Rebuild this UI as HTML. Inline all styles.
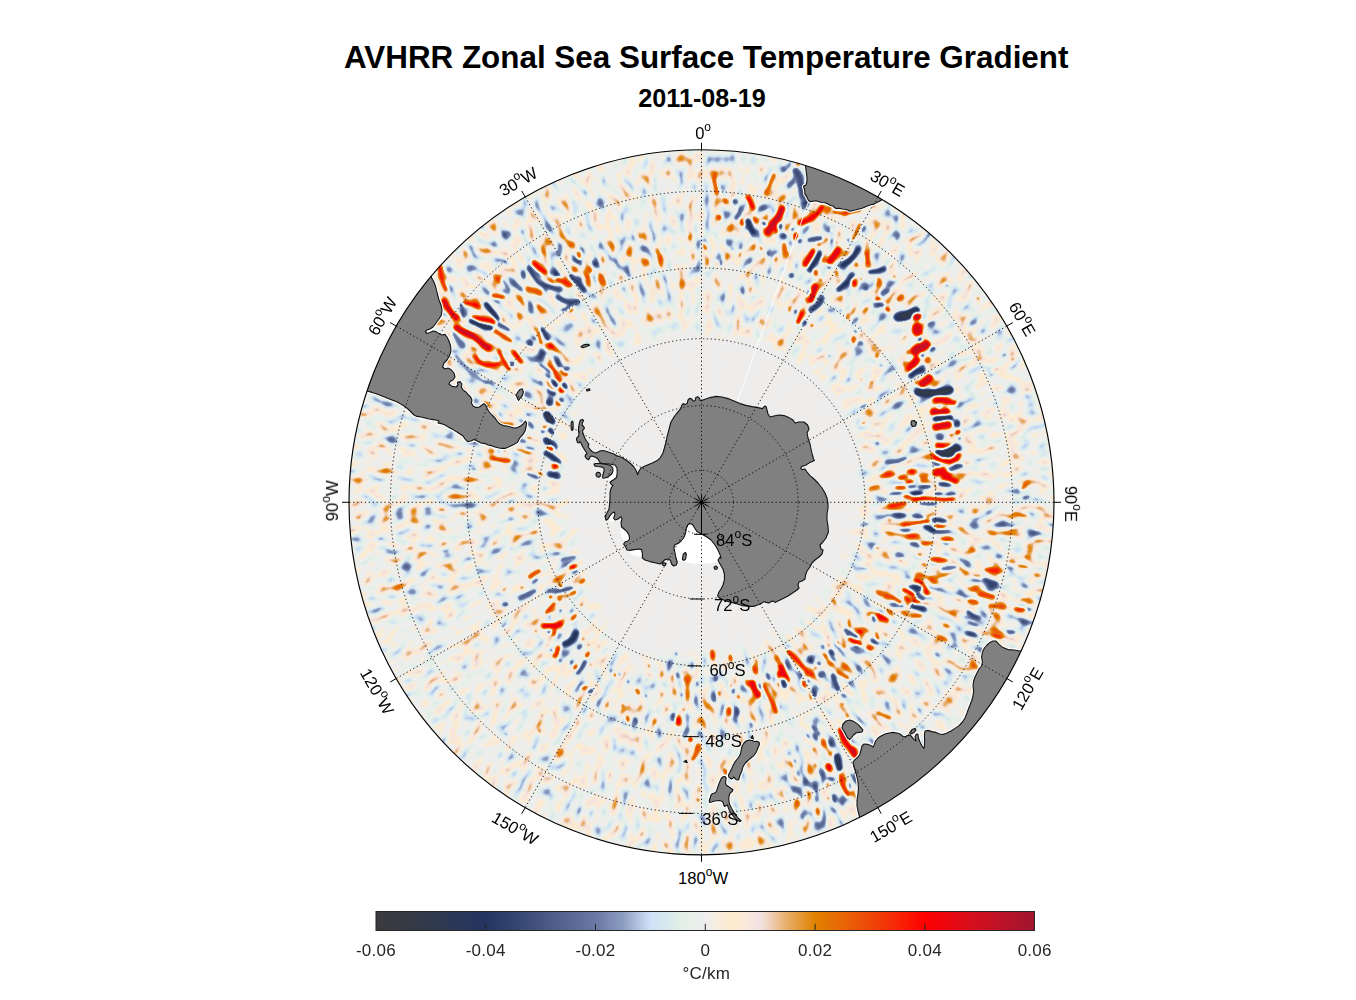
<!DOCTYPE html>
<html lang="en"><head><meta charset="utf-8"><title>AVHRR Zonal Sea Surface Temperature Gradient</title>
<style>html,body{margin:0;padding:0;background:#fff;}body{width:1356px;height:1000px;overflow:hidden;}svg{display:block;font-family:'Liberation Sans', Arial, Helvetica, sans-serif;}.g{fill:none;stroke:#000;stroke-width:.9;stroke-dasharray:1.25 2.65}.t{stroke:#000;stroke-width:1;fill:none}.l{font-size:16.6px;fill:#000}.s{font-size:12px}.c{font-size:17px;letter-spacing:.25px;fill:#262626}.land{fill:#808080;stroke:#111;stroke-width:1.1;stroke-linejoin:round}</style></head><body>
<svg width="1356" height="1000" viewBox="0 0 1356 1000">
<defs><clipPath id="disc"><circle cx="701.5" cy="502.3" r="352.5"/></clipPath>
<linearGradient id="cb" x1="0" x2="1" y1="0" y2="0">
<stop offset="0.0000" stop-color="#3b3b3d"/>
<stop offset="0.0667" stop-color="#333a48"/>
<stop offset="0.1250" stop-color="#2a3757"/>
<stop offset="0.1667" stop-color="#243562"/>
<stop offset="0.2083" stop-color="#33446f"/>
<stop offset="0.2500" stop-color="#45557f"/>
<stop offset="0.3333" stop-color="#6a79a3"/>
<stop offset="0.3750" stop-color="#8b9cc1"/>
<stop offset="0.3958" stop-color="#aebfdc"/>
<stop offset="0.4167" stop-color="#cfe1f8"/>
<stop offset="0.4375" stop-color="#d6e7f0"/>
<stop offset="0.4583" stop-color="#e0efe7"/>
<stop offset="0.4792" stop-color="#e9f0ea"/>
<stop offset="0.5000" stop-color="#eeeeee"/>
<stop offset="0.5208" stop-color="#f6eddc"/>
<stop offset="0.5417" stop-color="#fdebcd"/>
<stop offset="0.5625" stop-color="#f9e7dc"/>
<stop offset="0.5833" stop-color="#f2e3e4"/>
<stop offset="0.6042" stop-color="#edc9a8"/>
<stop offset="0.6250" stop-color="#e7ac66"/>
<stop offset="0.6667" stop-color="#e08200"/>
<stop offset="0.7083" stop-color="#e86606"/>
<stop offset="0.7500" stop-color="#ee4808"/>
<stop offset="0.7917" stop-color="#f72505"/>
<stop offset="0.8333" stop-color="#ff0000"/>
<stop offset="0.8750" stop-color="#e70812"/>
<stop offset="0.9167" stop-color="#cf1020"/>
<stop offset="0.9583" stop-color="#b8132a"/>
<stop offset="1.0000" stop-color="#a01530"/>
</linearGradient>
<g id="amp"><rect x="330" y="130" width="745" height="745" fill="#360000"/><path d="M701.5 362.3A140.0 140.0 0 1 1 701.5 362.3L701.5 266.3A236.0 236.0 0 1 0 701.5 266.3Z" fill="#390000"/><path d="M695.8 339.4A163.0 163.0 0 0 1 787.9 364.1L826.6 302.2A236.0 236.0 0 0 0 693.3 266.4Z" fill="#390000"/><path d="M718.0 266.9A236.0 236.0 0 0 1 859.4 326.9L903.6 277.9A302.0 302.0 0 0 0 722.6 201.0Z" fill="#4a0000"/><path d="M751.8 265.6A242.0 242.0 0 0 1 843.7 306.5L875.5 262.8A296.0 296.0 0 0 0 763.0 212.8Z" fill="#410000"/><path d="M777.0 199.6A312.0 312.0 0 0 1 838.3 221.9L857.6 182.3A356.0 356.0 0 0 0 787.6 156.9Z" fill="#510000"/><path d="M871.4 240.6A312.0 312.0 0 0 1 947.4 310.2L982.0 283.1A356.0 356.0 0 0 0 895.4 203.7Z" fill="#4a0000"/><path d="M783.0 361.1A163.0 163.0 0 0 1 864.5 502.3L937.5 502.3A236.0 236.0 0 0 0 819.5 297.9Z" fill="#390000"/><path d="M887.9 280.1A290.0 290.0 0 0 1 991.5 502.3L1057.5 502.3A356.0 356.0 0 0 0 930.3 229.6Z" fill="#360000"/><path d="M872.6 484.3A172.0 172.0 0 0 1 865.1 555.5L950.7 583.3A262.0 262.0 0 0 0 962.1 474.9Z" fill="#410000"/><path d="M963.3 511.4A262.0 262.0 0 0 1 918.7 648.8L996.6 701.4A356.0 356.0 0 0 0 1057.3 514.7Z" fill="#4d0000"/><path d="M849.2 528.3A150.0 150.0 0 0 1 828.7 581.8L862.6 603.0A190.0 190.0 0 0 0 888.6 535.3Z" fill="#360000"/><path d="M901.6 627.4A236.0 236.0 0 0 1 819.5 706.7L861.5 779.4A320.0 320.0 0 0 0 972.9 671.9Z" fill="#3c0000"/><path d="M809.9 622.7A162.0 162.0 0 0 1 695.8 664.2L693.5 730.2A228.0 228.0 0 0 0 854.1 671.7Z" fill="#440000"/><path d="M712.7 661.9A160.0 160.0 0 0 1 657.4 656.1L635.9 731.1A238.0 238.0 0 0 0 718.1 739.7Z" fill="#4a0000"/><path d="M825.5 717.1A248.0 248.0 0 0 1 774.0 739.5L802.4 832.2A345.0 345.0 0 0 0 874.0 801.1Z" fill="#580f00"/><path d="M770.5 728.0A236.0 236.0 0 0 1 701.5 738.3L701.5 847.3A345.0 345.0 0 0 0 802.4 832.2Z" fill="#380000"/><path d="M701.5 742.3A240.0 240.0 0 0 1 651.6 737.1L627.5 850.5A356.0 356.0 0 0 0 701.5 858.3Z" fill="#380000"/><path d="M652.4 733.1A236.0 236.0 0 0 1 477.1 575.2L362.9 612.3A356.0 356.0 0 0 0 627.5 850.5Z" fill="#340000"/><path d="M558.8 548.7A150.0 150.0 0 0 1 551.6 497.1L366.7 490.6A335.0 335.0 0 0 0 382.9 605.8Z" fill="#3e0000"/><path d="M521.6 496.0A180.0 180.0 0 0 1 545.6 412.3L393.2 324.3A356.0 356.0 0 0 0 345.7 489.9Z" fill="#380000"/><path d="M508.9 471.8A195.0 195.0 0 0 1 514.1 448.6L497.7 443.9A212.0 212.0 0 0 0 492.1 469.1Z" fill="#580f00"/><path d="M560.3 420.8A163.0 163.0 0 0 1 620.0 361.1L583.5 297.9A236.0 236.0 0 0 0 497.1 384.3Z" fill="#390000"/><path d="M513.2 384.7A222.0 222.0 0 0 1 580.6 316.1L510.9 208.8A350.0 350.0 0 0 0 404.7 316.8Z" fill="#460000"/><path d="M569.5 306.6A236.0 236.0 0 0 1 636.4 275.4L618.8 213.9A300.0 300.0 0 0 0 533.7 253.6Z" fill="#540700"/><path d="M612.3 281.6A238.0 238.0 0 0 1 709.8 264.4L711.1 228.5A274.0 274.0 0 0 0 598.9 248.3Z" fill="#510000"/><path d="M551.5 242.5A300.0 300.0 0 0 1 701.5 202.3L701.5 146.3A356.0 356.0 0 0 0 523.5 194.0Z" fill="#390000"/><path d="M620.0 361.1A163.0 163.0 0 0 1 701.5 339.3L701.5 266.3A236.0 236.0 0 0 0 583.5 297.9Z" fill="#390000"/><polyline fill="none" stroke="#3e0000" stroke-width="24" stroke-linecap="round" stroke-linejoin="round" points="874.8,269.8 880.8,276.2 886.6,282.8 892.1,289.4 897.4,296.3 902.5,303.2 907.3,310.3 911.9,317.5 914.7,327.6 917.1,337.6 919.1,347.6 922.0,356.6 924.5,365.7 926.6,374.7 928.4,383.7 934.7,389.6 940.8,395.7 941.6,404.3 942.1,412.8 942.2,421.3 944.2,427.6 946.0,434.0 947.6,440.5 949.0,447.0 949.2,453.9 949.2,460.7 949.1,467.5"/><polyline fill="none" stroke="#743a00" stroke-width="22" stroke-linecap="round" stroke-linejoin="round" points="937.9,544.0 936.0,551.5 933.8,559.0 931.5,566.4 928.8,573.7 926.0,580.9 922.9,587.9 919.7,594.9 912.3,599.5 904.9,603.7 897.5,607.6 890.0,611.1 882.5,614.3 874.9,617.1 870.7,622.6 866.3,627.9 861.8,633.0 857.0,638.0 852.2,642.8 846.6,646.1 840.9,649.2 835.2,652.1 829.4,654.7 824.6,658.0 819.7,661.1 814.8,664.1 809.8,666.9 804.7,669.5 799.5,672.0"/><polyline fill="none" stroke="#410000" stroke-width="26" stroke-linecap="round" stroke-linejoin="round" points="565.6,565.7 563.1,572.1 560.9,578.6 559.0,585.4 557.3,592.4 556.9,599.1 556.8,605.9 556.9,612.8 557.4,619.9 558.1,627.0 559.9,633.4 561.9,639.9 564.3,646.4 566.9,652.9 569.7,659.3 573.0,664.8 576.5,670.2 580.2,675.6 584.1,680.8 588.2,686.0 592.5,691.1"/><polyline fill="none" stroke="#4d0000" stroke-width="20" stroke-linecap="round" stroke-linejoin="round" points="592.5,691.1 597.9,694.8 603.5,698.3 609.1,701.7 614.9,704.9 620.8,707.9 626.8,710.7 632.9,713.4 639.3,714.7 645.6,715.8 652.0,716.7 658.4,717.4 664.8,717.9 671.2,718.2 676.3,723.1 681.8,727.9 687.4,732.6 693.3,737.2"/><polyline fill="none" stroke="#4a0000" stroke-width="13" stroke-linecap="round" stroke-linejoin="round" points="553.8,476.3 553.0,471.6 552.3,466.9 551.8,462.2 551.4,457.4 551.2,452.5 551.1,447.6 550.1,442.4 549.3,437.1 548.6,431.7 548.2,426.2 547.9,420.6 547.9,415.4 548.1,410.1 548.4,404.8 549.0,399.4 550.5,394.6 552.2,389.8 554.0,385.0 556.0,380.2"/><polyline fill="none" stroke="#786600" stroke-width="18" stroke-linecap="round" stroke-linejoin="round" points="556.0,380.2 552.5,370.4 549.4,360.4 547.4,349.5 545.9,338.4"/><polyline fill="none" stroke="#6b2c00" stroke-width="22" stroke-linecap="round" stroke-linejoin="round" points="526.2,307.6 531.2,301.2 536.5,294.9 542.0,288.8 547.8,282.8 555.4,279.4 563.0,276.4 570.7,273.5 578.5,271.0 585.5,268.7 592.6,266.6 599.7,264.8 606.8,263.2 613.9,261.7"/><polygon fill="#000" stroke="#000" stroke-width="6" points="701.5,336.3 713.1,336.2 724.8,336.9 736.3,338.4 747.8,340.7 759.2,343.8 770.3,347.7 781.2,352.4 791.4,358.4 801.0,365.4 809.9,373.1 818.3,381.4 826.1,390.2 833.2,399.4 839.6,409.2 845.3,419.3 849.3,430.2 852.4,441.3 854.8,452.5 856.4,463.7 857.4,474.8 857.6,485.9 857.1,496.9 856.0,507.7 854.5,518.4 852.2,528.9 849.2,539.1 845.7,549.1 841.6,558.9 836.8,568.3 831.4,577.3 825.9,586.2 819.7,594.6 813.0,602.7 805.7,610.2 797.9,617.2 789.7,623.7 781.0,629.5 771.9,634.7 762.5,639.3 752.8,643.3 742.8,646.5 732.6,648.6 722.2,649.9 711.9,650.5 701.5,650.3 691.0,653.1 680.0,655.2 668.7,656.5 657.2,656.7 645.7,655.6 634.3,653.3 623.3,649.5 612.5,644.8 608.0,630.9 605.1,617.2 600.5,606.8 597.0,596.4 594.3,586.0 590.3,577.3 586.9,568.5 584.2,559.5 581.5,550.8 579.1,542.1 577.3,533.3 574.3,524.7 571.9,515.9 570.2,506.9 568.4,497.7 566.6,488.1 565.6,478.3 566.8,468.7 568.7,459.2 570.2,449.3 571.4,438.8 573.3,428.3 576.1,417.8 579.8,407.2 584.4,396.8 590.0,386.8 596.9,377.7 604.6,369.0 613.0,360.7 622.6,354.0 633.2,348.8 644.0,344.4 655.2,340.8 666.7,338.4 678.2,336.9 689.9,336.2"/></g>
<linearGradient id="ramp" gradientUnits="userSpaceOnUse" x1="695.551" y1="503.083" x2="707.449" y2="501.517"><stop offset="0" stop-color="#000"/><stop offset="1" stop-color="#fff"/></linearGradient>
<mask id="wm" maskUnits="userSpaceOnUse" x="624.3" y="113.8" width="154.4" height="418.5"><polygon fill="url(#ramp)" points="695.55,503.08 648.35,144.58 754.65,144.58 707.45,503.08"/></mask>
<mask id="wm2" maskUnits="userSpaceOnUse" x="624.3" y="113.8" width="154.4" height="418.5"><polygon fill="url(#ramp)" points="695.55,503.08 648.35,144.58 660.75,142.95 707.94,501.45"/></mask>
<filter id="n0" x="630.3" y="119.8" width="142.4" height="406.5" filterUnits="userSpaceOnUse" color-interpolation-filters="sRGB"><feGaussianBlur in="SourceGraphic" stdDeviation="6" result="a"/><feColorMatrix in="a" type="matrix" values="1 0 0 0 0 1 0 0 0 0 1 0 0 0 0 0 0 0 0 1" result="a1"/><feColorMatrix in="a" type="matrix" values="0 1 0 0 0 0 1 0 0 0 0 1 0 0 0 0 0 0 0 1" result="a2"/><feTurbulence type="fractalNoise" baseFrequency="0.118 0.072" numOctaves="1" seed="11"/><feColorMatrix type="matrix" values="1 0 0 0 0 1 0 0 0 0 1 0 0 0 0 0 0 0 0 1" result="t1"/><feTurbulence type="fractalNoise" baseFrequency="0.088 0.047" numOctaves="1" seed="301"/><feColorMatrix type="matrix" values="1 0 0 0 0 1 0 0 0 0 1 0 0 0 0 0 0 0 0 1" result="t2"/><feComposite in="t1" in2="a1" operator="arithmetic" k1="3.6" k2="0" k3="-1.8" k4="0.5" result="x1"/><feComposite in="t2" in2="a2" operator="arithmetic" k1="3.4" k2="0" k3="-1.7" k4="0.5" result="x2"/><feComposite in="x1" in2="x2" operator="arithmetic" k1="0" k2="1" k3="1" k4="-0.5"/></filter>
<filter id="n1" x="630.3" y="119.8" width="142.4" height="406.5" filterUnits="userSpaceOnUse" color-interpolation-filters="sRGB"><feGaussianBlur in="SourceGraphic" stdDeviation="6" result="a"/><feColorMatrix in="a" type="matrix" values="1 0 0 0 0 1 0 0 0 0 1 0 0 0 0 0 0 0 0 1" result="a1"/><feColorMatrix in="a" type="matrix" values="0 1 0 0 0 0 1 0 0 0 0 1 0 0 0 0 0 0 0 1" result="a2"/><feTurbulence type="fractalNoise" baseFrequency="0.118 0.072" numOctaves="1" seed="18"/><feColorMatrix type="matrix" values="1 0 0 0 0 1 0 0 0 0 1 0 0 0 0 0 0 0 0 1" result="t1"/><feTurbulence type="fractalNoise" baseFrequency="0.088 0.047" numOctaves="1" seed="306"/><feColorMatrix type="matrix" values="1 0 0 0 0 1 0 0 0 0 1 0 0 0 0 0 0 0 0 1" result="t2"/><feComposite in="t1" in2="a1" operator="arithmetic" k1="3.6" k2="0" k3="-1.8" k4="0.5" result="x1"/><feComposite in="t2" in2="a2" operator="arithmetic" k1="3.4" k2="0" k3="-1.7" k4="0.5" result="x2"/><feComposite in="x1" in2="x2" operator="arithmetic" k1="0" k2="1" k3="1" k4="-0.5"/></filter>
<filter id="n2" x="630.3" y="119.8" width="142.4" height="406.5" filterUnits="userSpaceOnUse" color-interpolation-filters="sRGB"><feGaussianBlur in="SourceGraphic" stdDeviation="6" result="a"/><feColorMatrix in="a" type="matrix" values="1 0 0 0 0 1 0 0 0 0 1 0 0 0 0 0 0 0 0 1" result="a1"/><feColorMatrix in="a" type="matrix" values="0 1 0 0 0 0 1 0 0 0 0 1 0 0 0 0 0 0 0 1" result="a2"/><feTurbulence type="fractalNoise" baseFrequency="0.118 0.072" numOctaves="1" seed="25"/><feColorMatrix type="matrix" values="1 0 0 0 0 1 0 0 0 0 1 0 0 0 0 0 0 0 0 1" result="t1"/><feTurbulence type="fractalNoise" baseFrequency="0.088 0.047" numOctaves="1" seed="311"/><feColorMatrix type="matrix" values="1 0 0 0 0 1 0 0 0 0 1 0 0 0 0 0 0 0 0 1" result="t2"/><feComposite in="t1" in2="a1" operator="arithmetic" k1="3.6" k2="0" k3="-1.8" k4="0.5" result="x1"/><feComposite in="t2" in2="a2" operator="arithmetic" k1="3.4" k2="0" k3="-1.7" k4="0.5" result="x2"/><feComposite in="x1" in2="x2" operator="arithmetic" k1="0" k2="1" k3="1" k4="-0.5"/></filter>
<filter id="n3" x="630.3" y="119.8" width="142.4" height="406.5" filterUnits="userSpaceOnUse" color-interpolation-filters="sRGB"><feGaussianBlur in="SourceGraphic" stdDeviation="6" result="a"/><feColorMatrix in="a" type="matrix" values="1 0 0 0 0 1 0 0 0 0 1 0 0 0 0 0 0 0 0 1" result="a1"/><feColorMatrix in="a" type="matrix" values="0 1 0 0 0 0 1 0 0 0 0 1 0 0 0 0 0 0 0 1" result="a2"/><feTurbulence type="fractalNoise" baseFrequency="0.118 0.072" numOctaves="1" seed="32"/><feColorMatrix type="matrix" values="1 0 0 0 0 1 0 0 0 0 1 0 0 0 0 0 0 0 0 1" result="t1"/><feTurbulence type="fractalNoise" baseFrequency="0.088 0.047" numOctaves="1" seed="316"/><feColorMatrix type="matrix" values="1 0 0 0 0 1 0 0 0 0 1 0 0 0 0 0 0 0 0 1" result="t2"/><feComposite in="t1" in2="a1" operator="arithmetic" k1="3.6" k2="0" k3="-1.8" k4="0.5" result="x1"/><feComposite in="t2" in2="a2" operator="arithmetic" k1="3.4" k2="0" k3="-1.7" k4="0.5" result="x2"/><feComposite in="x1" in2="x2" operator="arithmetic" k1="0" k2="1" k3="1" k4="-0.5"/></filter>
<filter id="n4" x="630.3" y="119.8" width="142.4" height="406.5" filterUnits="userSpaceOnUse" color-interpolation-filters="sRGB"><feGaussianBlur in="SourceGraphic" stdDeviation="6" result="a"/><feColorMatrix in="a" type="matrix" values="1 0 0 0 0 1 0 0 0 0 1 0 0 0 0 0 0 0 0 1" result="a1"/><feColorMatrix in="a" type="matrix" values="0 1 0 0 0 0 1 0 0 0 0 1 0 0 0 0 0 0 0 1" result="a2"/><feTurbulence type="fractalNoise" baseFrequency="0.118 0.072" numOctaves="1" seed="39"/><feColorMatrix type="matrix" values="1 0 0 0 0 1 0 0 0 0 1 0 0 0 0 0 0 0 0 1" result="t1"/><feTurbulence type="fractalNoise" baseFrequency="0.088 0.047" numOctaves="1" seed="321"/><feColorMatrix type="matrix" values="1 0 0 0 0 1 0 0 0 0 1 0 0 0 0 0 0 0 0 1" result="t2"/><feComposite in="t1" in2="a1" operator="arithmetic" k1="3.6" k2="0" k3="-1.8" k4="0.5" result="x1"/><feComposite in="t2" in2="a2" operator="arithmetic" k1="3.4" k2="0" k3="-1.7" k4="0.5" result="x2"/><feComposite in="x1" in2="x2" operator="arithmetic" k1="0" k2="1" k3="1" k4="-0.5"/></filter>
<filter id="n5" x="630.3" y="119.8" width="142.4" height="406.5" filterUnits="userSpaceOnUse" color-interpolation-filters="sRGB"><feGaussianBlur in="SourceGraphic" stdDeviation="6" result="a"/><feColorMatrix in="a" type="matrix" values="1 0 0 0 0 1 0 0 0 0 1 0 0 0 0 0 0 0 0 1" result="a1"/><feColorMatrix in="a" type="matrix" values="0 1 0 0 0 0 1 0 0 0 0 1 0 0 0 0 0 0 0 1" result="a2"/><feTurbulence type="fractalNoise" baseFrequency="0.118 0.072" numOctaves="1" seed="46"/><feColorMatrix type="matrix" values="1 0 0 0 0 1 0 0 0 0 1 0 0 0 0 0 0 0 0 1" result="t1"/><feTurbulence type="fractalNoise" baseFrequency="0.088 0.047" numOctaves="1" seed="326"/><feColorMatrix type="matrix" values="1 0 0 0 0 1 0 0 0 0 1 0 0 0 0 0 0 0 0 1" result="t2"/><feComposite in="t1" in2="a1" operator="arithmetic" k1="3.6" k2="0" k3="-1.8" k4="0.5" result="x1"/><feComposite in="t2" in2="a2" operator="arithmetic" k1="3.4" k2="0" k3="-1.7" k4="0.5" result="x2"/><feComposite in="x1" in2="x2" operator="arithmetic" k1="0" k2="1" k3="1" k4="-0.5"/></filter>
<filter id="n6" x="630.3" y="119.8" width="142.4" height="406.5" filterUnits="userSpaceOnUse" color-interpolation-filters="sRGB"><feGaussianBlur in="SourceGraphic" stdDeviation="6" result="a"/><feColorMatrix in="a" type="matrix" values="1 0 0 0 0 1 0 0 0 0 1 0 0 0 0 0 0 0 0 1" result="a1"/><feColorMatrix in="a" type="matrix" values="0 1 0 0 0 0 1 0 0 0 0 1 0 0 0 0 0 0 0 1" result="a2"/><feTurbulence type="fractalNoise" baseFrequency="0.118 0.072" numOctaves="1" seed="53"/><feColorMatrix type="matrix" values="1 0 0 0 0 1 0 0 0 0 1 0 0 0 0 0 0 0 0 1" result="t1"/><feTurbulence type="fractalNoise" baseFrequency="0.088 0.047" numOctaves="1" seed="331"/><feColorMatrix type="matrix" values="1 0 0 0 0 1 0 0 0 0 1 0 0 0 0 0 0 0 0 1" result="t2"/><feComposite in="t1" in2="a1" operator="arithmetic" k1="3.6" k2="0" k3="-1.8" k4="0.5" result="x1"/><feComposite in="t2" in2="a2" operator="arithmetic" k1="3.4" k2="0" k3="-1.7" k4="0.5" result="x2"/><feComposite in="x1" in2="x2" operator="arithmetic" k1="0" k2="1" k3="1" k4="-0.5"/></filter>
<filter id="n7" x="630.3" y="119.8" width="142.4" height="406.5" filterUnits="userSpaceOnUse" color-interpolation-filters="sRGB"><feGaussianBlur in="SourceGraphic" stdDeviation="6" result="a"/><feColorMatrix in="a" type="matrix" values="1 0 0 0 0 1 0 0 0 0 1 0 0 0 0 0 0 0 0 1" result="a1"/><feColorMatrix in="a" type="matrix" values="0 1 0 0 0 0 1 0 0 0 0 1 0 0 0 0 0 0 0 1" result="a2"/><feTurbulence type="fractalNoise" baseFrequency="0.118 0.072" numOctaves="1" seed="60"/><feColorMatrix type="matrix" values="1 0 0 0 0 1 0 0 0 0 1 0 0 0 0 0 0 0 0 1" result="t1"/><feTurbulence type="fractalNoise" baseFrequency="0.088 0.047" numOctaves="1" seed="336"/><feColorMatrix type="matrix" values="1 0 0 0 0 1 0 0 0 0 1 0 0 0 0 0 0 0 0 1" result="t2"/><feComposite in="t1" in2="a1" operator="arithmetic" k1="3.6" k2="0" k3="-1.8" k4="0.5" result="x1"/><feComposite in="t2" in2="a2" operator="arithmetic" k1="3.4" k2="0" k3="-1.7" k4="0.5" result="x2"/><feComposite in="x1" in2="x2" operator="arithmetic" k1="0" k2="1" k3="1" k4="-0.5"/></filter>
<filter id="n8" x="630.3" y="119.8" width="142.4" height="406.5" filterUnits="userSpaceOnUse" color-interpolation-filters="sRGB"><feGaussianBlur in="SourceGraphic" stdDeviation="6" result="a"/><feColorMatrix in="a" type="matrix" values="1 0 0 0 0 1 0 0 0 0 1 0 0 0 0 0 0 0 0 1" result="a1"/><feColorMatrix in="a" type="matrix" values="0 1 0 0 0 0 1 0 0 0 0 1 0 0 0 0 0 0 0 1" result="a2"/><feTurbulence type="fractalNoise" baseFrequency="0.118 0.072" numOctaves="1" seed="67"/><feColorMatrix type="matrix" values="1 0 0 0 0 1 0 0 0 0 1 0 0 0 0 0 0 0 0 1" result="t1"/><feTurbulence type="fractalNoise" baseFrequency="0.088 0.047" numOctaves="1" seed="341"/><feColorMatrix type="matrix" values="1 0 0 0 0 1 0 0 0 0 1 0 0 0 0 0 0 0 0 1" result="t2"/><feComposite in="t1" in2="a1" operator="arithmetic" k1="3.6" k2="0" k3="-1.8" k4="0.5" result="x1"/><feComposite in="t2" in2="a2" operator="arithmetic" k1="3.4" k2="0" k3="-1.7" k4="0.5" result="x2"/><feComposite in="x1" in2="x2" operator="arithmetic" k1="0" k2="1" k3="1" k4="-0.5"/></filter>
<filter id="n9" x="630.3" y="119.8" width="142.4" height="406.5" filterUnits="userSpaceOnUse" color-interpolation-filters="sRGB"><feGaussianBlur in="SourceGraphic" stdDeviation="6" result="a"/><feColorMatrix in="a" type="matrix" values="1 0 0 0 0 1 0 0 0 0 1 0 0 0 0 0 0 0 0 1" result="a1"/><feColorMatrix in="a" type="matrix" values="0 1 0 0 0 0 1 0 0 0 0 1 0 0 0 0 0 0 0 1" result="a2"/><feTurbulence type="fractalNoise" baseFrequency="0.118 0.072" numOctaves="1" seed="74"/><feColorMatrix type="matrix" values="1 0 0 0 0 1 0 0 0 0 1 0 0 0 0 0 0 0 0 1" result="t1"/><feTurbulence type="fractalNoise" baseFrequency="0.088 0.047" numOctaves="1" seed="346"/><feColorMatrix type="matrix" values="1 0 0 0 0 1 0 0 0 0 1 0 0 0 0 0 0 0 0 1" result="t2"/><feComposite in="t1" in2="a1" operator="arithmetic" k1="3.6" k2="0" k3="-1.8" k4="0.5" result="x1"/><feComposite in="t2" in2="a2" operator="arithmetic" k1="3.4" k2="0" k3="-1.7" k4="0.5" result="x2"/><feComposite in="x1" in2="x2" operator="arithmetic" k1="0" k2="1" k3="1" k4="-0.5"/></filter>
<filter id="n10" x="630.3" y="119.8" width="142.4" height="406.5" filterUnits="userSpaceOnUse" color-interpolation-filters="sRGB"><feGaussianBlur in="SourceGraphic" stdDeviation="6" result="a"/><feColorMatrix in="a" type="matrix" values="1 0 0 0 0 1 0 0 0 0 1 0 0 0 0 0 0 0 0 1" result="a1"/><feColorMatrix in="a" type="matrix" values="0 1 0 0 0 0 1 0 0 0 0 1 0 0 0 0 0 0 0 1" result="a2"/><feTurbulence type="fractalNoise" baseFrequency="0.118 0.072" numOctaves="1" seed="81"/><feColorMatrix type="matrix" values="1 0 0 0 0 1 0 0 0 0 1 0 0 0 0 0 0 0 0 1" result="t1"/><feTurbulence type="fractalNoise" baseFrequency="0.088 0.047" numOctaves="1" seed="351"/><feColorMatrix type="matrix" values="1 0 0 0 0 1 0 0 0 0 1 0 0 0 0 0 0 0 0 1" result="t2"/><feComposite in="t1" in2="a1" operator="arithmetic" k1="3.6" k2="0" k3="-1.8" k4="0.5" result="x1"/><feComposite in="t2" in2="a2" operator="arithmetic" k1="3.4" k2="0" k3="-1.7" k4="0.5" result="x2"/><feComposite in="x1" in2="x2" operator="arithmetic" k1="0" k2="1" k3="1" k4="-0.5"/></filter>
<filter id="n11" x="630.3" y="119.8" width="142.4" height="406.5" filterUnits="userSpaceOnUse" color-interpolation-filters="sRGB"><feGaussianBlur in="SourceGraphic" stdDeviation="6" result="a"/><feColorMatrix in="a" type="matrix" values="1 0 0 0 0 1 0 0 0 0 1 0 0 0 0 0 0 0 0 1" result="a1"/><feColorMatrix in="a" type="matrix" values="0 1 0 0 0 0 1 0 0 0 0 1 0 0 0 0 0 0 0 1" result="a2"/><feTurbulence type="fractalNoise" baseFrequency="0.118 0.072" numOctaves="1" seed="88"/><feColorMatrix type="matrix" values="1 0 0 0 0 1 0 0 0 0 1 0 0 0 0 0 0 0 0 1" result="t1"/><feTurbulence type="fractalNoise" baseFrequency="0.088 0.047" numOctaves="1" seed="356"/><feColorMatrix type="matrix" values="1 0 0 0 0 1 0 0 0 0 1 0 0 0 0 0 0 0 0 1" result="t2"/><feComposite in="t1" in2="a1" operator="arithmetic" k1="3.6" k2="0" k3="-1.8" k4="0.5" result="x1"/><feComposite in="t2" in2="a2" operator="arithmetic" k1="3.4" k2="0" k3="-1.7" k4="0.5" result="x2"/><feComposite in="x1" in2="x2" operator="arithmetic" k1="0" k2="1" k3="1" k4="-0.5"/></filter>
<filter id="n12" x="630.3" y="119.8" width="142.4" height="406.5" filterUnits="userSpaceOnUse" color-interpolation-filters="sRGB"><feGaussianBlur in="SourceGraphic" stdDeviation="6" result="a"/><feColorMatrix in="a" type="matrix" values="1 0 0 0 0 1 0 0 0 0 1 0 0 0 0 0 0 0 0 1" result="a1"/><feColorMatrix in="a" type="matrix" values="0 1 0 0 0 0 1 0 0 0 0 1 0 0 0 0 0 0 0 1" result="a2"/><feTurbulence type="fractalNoise" baseFrequency="0.118 0.072" numOctaves="1" seed="95"/><feColorMatrix type="matrix" values="1 0 0 0 0 1 0 0 0 0 1 0 0 0 0 0 0 0 0 1" result="t1"/><feTurbulence type="fractalNoise" baseFrequency="0.088 0.047" numOctaves="1" seed="361"/><feColorMatrix type="matrix" values="1 0 0 0 0 1 0 0 0 0 1 0 0 0 0 0 0 0 0 1" result="t2"/><feComposite in="t1" in2="a1" operator="arithmetic" k1="3.6" k2="0" k3="-1.8" k4="0.5" result="x1"/><feComposite in="t2" in2="a2" operator="arithmetic" k1="3.4" k2="0" k3="-1.7" k4="0.5" result="x2"/><feComposite in="x1" in2="x2" operator="arithmetic" k1="0" k2="1" k3="1" k4="-0.5"/></filter>
<filter id="n13" x="630.3" y="119.8" width="142.4" height="406.5" filterUnits="userSpaceOnUse" color-interpolation-filters="sRGB"><feGaussianBlur in="SourceGraphic" stdDeviation="6" result="a"/><feColorMatrix in="a" type="matrix" values="1 0 0 0 0 1 0 0 0 0 1 0 0 0 0 0 0 0 0 1" result="a1"/><feColorMatrix in="a" type="matrix" values="0 1 0 0 0 0 1 0 0 0 0 1 0 0 0 0 0 0 0 1" result="a2"/><feTurbulence type="fractalNoise" baseFrequency="0.118 0.072" numOctaves="1" seed="102"/><feColorMatrix type="matrix" values="1 0 0 0 0 1 0 0 0 0 1 0 0 0 0 0 0 0 0 1" result="t1"/><feTurbulence type="fractalNoise" baseFrequency="0.088 0.047" numOctaves="1" seed="366"/><feColorMatrix type="matrix" values="1 0 0 0 0 1 0 0 0 0 1 0 0 0 0 0 0 0 0 1" result="t2"/><feComposite in="t1" in2="a1" operator="arithmetic" k1="3.6" k2="0" k3="-1.8" k4="0.5" result="x1"/><feComposite in="t2" in2="a2" operator="arithmetic" k1="3.4" k2="0" k3="-1.7" k4="0.5" result="x2"/><feComposite in="x1" in2="x2" operator="arithmetic" k1="0" k2="1" k3="1" k4="-0.5"/></filter>
<filter id="n14" x="630.3" y="119.8" width="142.4" height="406.5" filterUnits="userSpaceOnUse" color-interpolation-filters="sRGB"><feGaussianBlur in="SourceGraphic" stdDeviation="6" result="a"/><feColorMatrix in="a" type="matrix" values="1 0 0 0 0 1 0 0 0 0 1 0 0 0 0 0 0 0 0 1" result="a1"/><feColorMatrix in="a" type="matrix" values="0 1 0 0 0 0 1 0 0 0 0 1 0 0 0 0 0 0 0 1" result="a2"/><feTurbulence type="fractalNoise" baseFrequency="0.118 0.072" numOctaves="1" seed="109"/><feColorMatrix type="matrix" values="1 0 0 0 0 1 0 0 0 0 1 0 0 0 0 0 0 0 0 1" result="t1"/><feTurbulence type="fractalNoise" baseFrequency="0.088 0.047" numOctaves="1" seed="371"/><feColorMatrix type="matrix" values="1 0 0 0 0 1 0 0 0 0 1 0 0 0 0 0 0 0 0 1" result="t2"/><feComposite in="t1" in2="a1" operator="arithmetic" k1="3.6" k2="0" k3="-1.8" k4="0.5" result="x1"/><feComposite in="t2" in2="a2" operator="arithmetic" k1="3.4" k2="0" k3="-1.7" k4="0.5" result="x2"/><feComposite in="x1" in2="x2" operator="arithmetic" k1="0" k2="1" k3="1" k4="-0.5"/></filter>
<filter id="n15" x="630.3" y="119.8" width="142.4" height="406.5" filterUnits="userSpaceOnUse" color-interpolation-filters="sRGB"><feGaussianBlur in="SourceGraphic" stdDeviation="6" result="a"/><feColorMatrix in="a" type="matrix" values="1 0 0 0 0 1 0 0 0 0 1 0 0 0 0 0 0 0 0 1" result="a1"/><feColorMatrix in="a" type="matrix" values="0 1 0 0 0 0 1 0 0 0 0 1 0 0 0 0 0 0 0 1" result="a2"/><feTurbulence type="fractalNoise" baseFrequency="0.118 0.072" numOctaves="1" seed="116"/><feColorMatrix type="matrix" values="1 0 0 0 0 1 0 0 0 0 1 0 0 0 0 0 0 0 0 1" result="t1"/><feTurbulence type="fractalNoise" baseFrequency="0.088 0.047" numOctaves="1" seed="376"/><feColorMatrix type="matrix" values="1 0 0 0 0 1 0 0 0 0 1 0 0 0 0 0 0 0 0 1" result="t2"/><feComposite in="t1" in2="a1" operator="arithmetic" k1="3.6" k2="0" k3="-1.8" k4="0.5" result="x1"/><feComposite in="t2" in2="a2" operator="arithmetic" k1="3.4" k2="0" k3="-1.7" k4="0.5" result="x2"/><feComposite in="x1" in2="x2" operator="arithmetic" k1="0" k2="1" k3="1" k4="-0.5"/></filter>
<filter id="n16" x="630.3" y="119.8" width="142.4" height="406.5" filterUnits="userSpaceOnUse" color-interpolation-filters="sRGB"><feGaussianBlur in="SourceGraphic" stdDeviation="6" result="a"/><feColorMatrix in="a" type="matrix" values="1 0 0 0 0 1 0 0 0 0 1 0 0 0 0 0 0 0 0 1" result="a1"/><feColorMatrix in="a" type="matrix" values="0 1 0 0 0 0 1 0 0 0 0 1 0 0 0 0 0 0 0 1" result="a2"/><feTurbulence type="fractalNoise" baseFrequency="0.118 0.072" numOctaves="1" seed="123"/><feColorMatrix type="matrix" values="1 0 0 0 0 1 0 0 0 0 1 0 0 0 0 0 0 0 0 1" result="t1"/><feTurbulence type="fractalNoise" baseFrequency="0.088 0.047" numOctaves="1" seed="381"/><feColorMatrix type="matrix" values="1 0 0 0 0 1 0 0 0 0 1 0 0 0 0 0 0 0 0 1" result="t2"/><feComposite in="t1" in2="a1" operator="arithmetic" k1="3.6" k2="0" k3="-1.8" k4="0.5" result="x1"/><feComposite in="t2" in2="a2" operator="arithmetic" k1="3.4" k2="0" k3="-1.7" k4="0.5" result="x2"/><feComposite in="x1" in2="x2" operator="arithmetic" k1="0" k2="1" k3="1" k4="-0.5"/></filter>
<filter id="n17" x="630.3" y="119.8" width="142.4" height="406.5" filterUnits="userSpaceOnUse" color-interpolation-filters="sRGB"><feGaussianBlur in="SourceGraphic" stdDeviation="6" result="a"/><feColorMatrix in="a" type="matrix" values="1 0 0 0 0 1 0 0 0 0 1 0 0 0 0 0 0 0 0 1" result="a1"/><feColorMatrix in="a" type="matrix" values="0 1 0 0 0 0 1 0 0 0 0 1 0 0 0 0 0 0 0 1" result="a2"/><feTurbulence type="fractalNoise" baseFrequency="0.118 0.072" numOctaves="1" seed="130"/><feColorMatrix type="matrix" values="1 0 0 0 0 1 0 0 0 0 1 0 0 0 0 0 0 0 0 1" result="t1"/><feTurbulence type="fractalNoise" baseFrequency="0.088 0.047" numOctaves="1" seed="386"/><feColorMatrix type="matrix" values="1 0 0 0 0 1 0 0 0 0 1 0 0 0 0 0 0 0 0 1" result="t2"/><feComposite in="t1" in2="a1" operator="arithmetic" k1="3.6" k2="0" k3="-1.8" k4="0.5" result="x1"/><feComposite in="t2" in2="a2" operator="arithmetic" k1="3.4" k2="0" k3="-1.7" k4="0.5" result="x2"/><feComposite in="x1" in2="x2" operator="arithmetic" k1="0" k2="1" k3="1" k4="-0.5"/></filter>
<filter id="n18" x="630.3" y="119.8" width="142.4" height="406.5" filterUnits="userSpaceOnUse" color-interpolation-filters="sRGB"><feGaussianBlur in="SourceGraphic" stdDeviation="6" result="a"/><feColorMatrix in="a" type="matrix" values="1 0 0 0 0 1 0 0 0 0 1 0 0 0 0 0 0 0 0 1" result="a1"/><feColorMatrix in="a" type="matrix" values="0 1 0 0 0 0 1 0 0 0 0 1 0 0 0 0 0 0 0 1" result="a2"/><feTurbulence type="fractalNoise" baseFrequency="0.118 0.072" numOctaves="1" seed="137"/><feColorMatrix type="matrix" values="1 0 0 0 0 1 0 0 0 0 1 0 0 0 0 0 0 0 0 1" result="t1"/><feTurbulence type="fractalNoise" baseFrequency="0.088 0.047" numOctaves="1" seed="391"/><feColorMatrix type="matrix" values="1 0 0 0 0 1 0 0 0 0 1 0 0 0 0 0 0 0 0 1" result="t2"/><feComposite in="t1" in2="a1" operator="arithmetic" k1="3.6" k2="0" k3="-1.8" k4="0.5" result="x1"/><feComposite in="t2" in2="a2" operator="arithmetic" k1="3.4" k2="0" k3="-1.7" k4="0.5" result="x2"/><feComposite in="x1" in2="x2" operator="arithmetic" k1="0" k2="1" k3="1" k4="-0.5"/></filter>
<filter id="n19" x="630.3" y="119.8" width="142.4" height="406.5" filterUnits="userSpaceOnUse" color-interpolation-filters="sRGB"><feGaussianBlur in="SourceGraphic" stdDeviation="6" result="a"/><feColorMatrix in="a" type="matrix" values="1 0 0 0 0 1 0 0 0 0 1 0 0 0 0 0 0 0 0 1" result="a1"/><feColorMatrix in="a" type="matrix" values="0 1 0 0 0 0 1 0 0 0 0 1 0 0 0 0 0 0 0 1" result="a2"/><feTurbulence type="fractalNoise" baseFrequency="0.118 0.072" numOctaves="1" seed="144"/><feColorMatrix type="matrix" values="1 0 0 0 0 1 0 0 0 0 1 0 0 0 0 0 0 0 0 1" result="t1"/><feTurbulence type="fractalNoise" baseFrequency="0.088 0.047" numOctaves="1" seed="396"/><feColorMatrix type="matrix" values="1 0 0 0 0 1 0 0 0 0 1 0 0 0 0 0 0 0 0 1" result="t2"/><feComposite in="t1" in2="a1" operator="arithmetic" k1="3.6" k2="0" k3="-1.8" k4="0.5" result="x1"/><feComposite in="t2" in2="a2" operator="arithmetic" k1="3.4" k2="0" k3="-1.7" k4="0.5" result="x2"/><feComposite in="x1" in2="x2" operator="arithmetic" k1="0" k2="1" k3="1" k4="-0.5"/></filter>
<filter id="n20" x="630.3" y="119.8" width="142.4" height="406.5" filterUnits="userSpaceOnUse" color-interpolation-filters="sRGB"><feGaussianBlur in="SourceGraphic" stdDeviation="6" result="a"/><feColorMatrix in="a" type="matrix" values="1 0 0 0 0 1 0 0 0 0 1 0 0 0 0 0 0 0 0 1" result="a1"/><feColorMatrix in="a" type="matrix" values="0 1 0 0 0 0 1 0 0 0 0 1 0 0 0 0 0 0 0 1" result="a2"/><feTurbulence type="fractalNoise" baseFrequency="0.118 0.072" numOctaves="1" seed="151"/><feColorMatrix type="matrix" values="1 0 0 0 0 1 0 0 0 0 1 0 0 0 0 0 0 0 0 1" result="t1"/><feTurbulence type="fractalNoise" baseFrequency="0.088 0.047" numOctaves="1" seed="401"/><feColorMatrix type="matrix" values="1 0 0 0 0 1 0 0 0 0 1 0 0 0 0 0 0 0 0 1" result="t2"/><feComposite in="t1" in2="a1" operator="arithmetic" k1="3.6" k2="0" k3="-1.8" k4="0.5" result="x1"/><feComposite in="t2" in2="a2" operator="arithmetic" k1="3.4" k2="0" k3="-1.7" k4="0.5" result="x2"/><feComposite in="x1" in2="x2" operator="arithmetic" k1="0" k2="1" k3="1" k4="-0.5"/></filter>
<filter id="n21" x="630.3" y="119.8" width="142.4" height="406.5" filterUnits="userSpaceOnUse" color-interpolation-filters="sRGB"><feGaussianBlur in="SourceGraphic" stdDeviation="6" result="a"/><feColorMatrix in="a" type="matrix" values="1 0 0 0 0 1 0 0 0 0 1 0 0 0 0 0 0 0 0 1" result="a1"/><feColorMatrix in="a" type="matrix" values="0 1 0 0 0 0 1 0 0 0 0 1 0 0 0 0 0 0 0 1" result="a2"/><feTurbulence type="fractalNoise" baseFrequency="0.118 0.072" numOctaves="1" seed="158"/><feColorMatrix type="matrix" values="1 0 0 0 0 1 0 0 0 0 1 0 0 0 0 0 0 0 0 1" result="t1"/><feTurbulence type="fractalNoise" baseFrequency="0.088 0.047" numOctaves="1" seed="406"/><feColorMatrix type="matrix" values="1 0 0 0 0 1 0 0 0 0 1 0 0 0 0 0 0 0 0 1" result="t2"/><feComposite in="t1" in2="a1" operator="arithmetic" k1="3.6" k2="0" k3="-1.8" k4="0.5" result="x1"/><feComposite in="t2" in2="a2" operator="arithmetic" k1="3.4" k2="0" k3="-1.7" k4="0.5" result="x2"/><feComposite in="x1" in2="x2" operator="arithmetic" k1="0" k2="1" k3="1" k4="-0.5"/></filter>
<filter id="n22" x="630.3" y="119.8" width="142.4" height="406.5" filterUnits="userSpaceOnUse" color-interpolation-filters="sRGB"><feGaussianBlur in="SourceGraphic" stdDeviation="6" result="a"/><feColorMatrix in="a" type="matrix" values="1 0 0 0 0 1 0 0 0 0 1 0 0 0 0 0 0 0 0 1" result="a1"/><feColorMatrix in="a" type="matrix" values="0 1 0 0 0 0 1 0 0 0 0 1 0 0 0 0 0 0 0 1" result="a2"/><feTurbulence type="fractalNoise" baseFrequency="0.118 0.072" numOctaves="1" seed="165"/><feColorMatrix type="matrix" values="1 0 0 0 0 1 0 0 0 0 1 0 0 0 0 0 0 0 0 1" result="t1"/><feTurbulence type="fractalNoise" baseFrequency="0.088 0.047" numOctaves="1" seed="411"/><feColorMatrix type="matrix" values="1 0 0 0 0 1 0 0 0 0 1 0 0 0 0 0 0 0 0 1" result="t2"/><feComposite in="t1" in2="a1" operator="arithmetic" k1="3.6" k2="0" k3="-1.8" k4="0.5" result="x1"/><feComposite in="t2" in2="a2" operator="arithmetic" k1="3.4" k2="0" k3="-1.7" k4="0.5" result="x2"/><feComposite in="x1" in2="x2" operator="arithmetic" k1="0" k2="1" k3="1" k4="-0.5"/></filter>
<filter id="n23" x="630.3" y="119.8" width="142.4" height="406.5" filterUnits="userSpaceOnUse" color-interpolation-filters="sRGB"><feGaussianBlur in="SourceGraphic" stdDeviation="6" result="a"/><feColorMatrix in="a" type="matrix" values="1 0 0 0 0 1 0 0 0 0 1 0 0 0 0 0 0 0 0 1" result="a1"/><feColorMatrix in="a" type="matrix" values="0 1 0 0 0 0 1 0 0 0 0 1 0 0 0 0 0 0 0 1" result="a2"/><feTurbulence type="fractalNoise" baseFrequency="0.118 0.072" numOctaves="1" seed="172"/><feColorMatrix type="matrix" values="1 0 0 0 0 1 0 0 0 0 1 0 0 0 0 0 0 0 0 1" result="t1"/><feTurbulence type="fractalNoise" baseFrequency="0.088 0.047" numOctaves="1" seed="416"/><feColorMatrix type="matrix" values="1 0 0 0 0 1 0 0 0 0 1 0 0 0 0 0 0 0 0 1" result="t2"/><feComposite in="t1" in2="a1" operator="arithmetic" k1="3.6" k2="0" k3="-1.8" k4="0.5" result="x1"/><feComposite in="t2" in2="a2" operator="arithmetic" k1="3.4" k2="0" k3="-1.7" k4="0.5" result="x2"/><feComposite in="x1" in2="x2" operator="arithmetic" k1="0" k2="1" k3="1" k4="-0.5"/></filter>
<filter id="cmap" x="335" y="135" width="735" height="735" filterUnits="userSpaceOnUse" color-interpolation-filters="sRGB"><feComponentTransfer><feFuncR type="table" tableValues="0.231 0.221 0.211 0.201 0.189 0.176 0.164 0.153 0.142 0.167 0.194 0.224 0.255 0.286 0.317 0.347 0.376 0.404 0.445 0.493 0.54 0.63 0.72 0.803 0.827 0.845 0.867 0.886 0.903 0.916 0.924 0.93 0.933 0.939 0.949 0.961 0.973 0.986 0.987 0.979 0.964 0.948 0.935 0.92 0.905 0.895 0.885 0.883 0.896 0.908 0.918 0.928 0.941 0.956 0.972 0.986 0.998 0.954 0.908 0.863 0.816 0.771 0.725 0.677 0.627"/><feFuncG type="table" tableValues="0.231 0.23 0.229 0.228 0.224 0.22 0.215 0.212 0.208 0.234 0.261 0.29 0.319 0.349 0.378 0.407 0.436 0.464 0.506 0.557 0.606 0.697 0.788 0.874 0.895 0.91 0.928 0.938 0.94 0.94 0.937 0.935 0.933 0.933 0.931 0.93 0.927 0.923 0.917 0.908 0.899 0.884 0.818 0.745 0.668 0.609 0.547 0.493 0.45 0.405 0.357 0.308 0.253 0.193 0.13 0.064 0.001 0.015 0.031 0.046 0.061 0.068 0.074 0.078 0.082"/><feFuncB type="table" tableValues="0.239 0.253 0.267 0.281 0.301 0.322 0.342 0.363 0.383 0.407 0.43 0.457 0.485 0.513 0.543 0.572 0.601 0.628 0.666 0.71 0.752 0.822 0.895 0.966 0.955 0.936 0.917 0.908 0.914 0.92 0.926 0.93 0.933 0.92 0.898 0.872 0.845 0.817 0.822 0.854 0.877 0.879 0.727 0.56 0.384 0.24 0.091 0.004 0.013 0.022 0.026 0.03 0.029 0.024 0.018 0.009 0.002 0.035 0.069 0.096 0.123 0.143 0.163 0.176 0.188"/></feComponentTransfer></filter>
<filter id="b1" x="335" y="135" width="735" height="735" filterUnits="userSpaceOnUse" color-interpolation-filters="sRGB"><feGaussianBlur stdDeviation="1.4"/></filter>
</defs>
<text x="706.2" y="67.8" text-anchor="middle" font-weight="bold" font-size="31px" textLength="724.5" lengthAdjust="spacingAndGlyphs">AVHRR Zonal Sea Surface Temperature Gradient</text>
<text x="702" y="107" text-anchor="middle" font-weight="bold" font-size="25px" textLength="127.5" lengthAdjust="spacingAndGlyphs">2011-08-19</text>
<g clip-path="url(#disc)">
<rect x="340" y="140" width="730" height="730" fill="#eeeeee"/>
<g filter="url(#cmap)">
<rect x="335" y="135" width="735" height="735" fill="#808080"/>
<g transform="rotate(0 701.5 502.3)" mask="url(#wm)" filter="url(#n0)"><use href="#amp" transform="rotate(-0 701.5 502.3)"/></g>
<g transform="rotate(15 701.5 502.3)" mask="url(#wm)" filter="url(#n1)"><use href="#amp" transform="rotate(-15 701.5 502.3)"/></g>
<g transform="rotate(30 701.5 502.3)" mask="url(#wm)" filter="url(#n2)"><use href="#amp" transform="rotate(-30 701.5 502.3)"/></g>
<g transform="rotate(45 701.5 502.3)" mask="url(#wm)" filter="url(#n3)"><use href="#amp" transform="rotate(-45 701.5 502.3)"/></g>
<g transform="rotate(60 701.5 502.3)" mask="url(#wm)" filter="url(#n4)"><use href="#amp" transform="rotate(-60 701.5 502.3)"/></g>
<g transform="rotate(75 701.5 502.3)" mask="url(#wm)" filter="url(#n5)"><use href="#amp" transform="rotate(-75 701.5 502.3)"/></g>
<g transform="rotate(90 701.5 502.3)" mask="url(#wm)" filter="url(#n6)"><use href="#amp" transform="rotate(-90 701.5 502.3)"/></g>
<g transform="rotate(105 701.5 502.3)" mask="url(#wm)" filter="url(#n7)"><use href="#amp" transform="rotate(-105 701.5 502.3)"/></g>
<g transform="rotate(120 701.5 502.3)" mask="url(#wm)" filter="url(#n8)"><use href="#amp" transform="rotate(-120 701.5 502.3)"/></g>
<g transform="rotate(135 701.5 502.3)" mask="url(#wm)" filter="url(#n9)"><use href="#amp" transform="rotate(-135 701.5 502.3)"/></g>
<g transform="rotate(150 701.5 502.3)" mask="url(#wm)" filter="url(#n10)"><use href="#amp" transform="rotate(-150 701.5 502.3)"/></g>
<g transform="rotate(165 701.5 502.3)" mask="url(#wm)" filter="url(#n11)"><use href="#amp" transform="rotate(-165 701.5 502.3)"/></g>
<g transform="rotate(180 701.5 502.3)" mask="url(#wm)" filter="url(#n12)"><use href="#amp" transform="rotate(-180 701.5 502.3)"/></g>
<g transform="rotate(195 701.5 502.3)" mask="url(#wm)" filter="url(#n13)"><use href="#amp" transform="rotate(-195 701.5 502.3)"/></g>
<g transform="rotate(210 701.5 502.3)" mask="url(#wm)" filter="url(#n14)"><use href="#amp" transform="rotate(-210 701.5 502.3)"/></g>
<g transform="rotate(225 701.5 502.3)" mask="url(#wm)" filter="url(#n15)"><use href="#amp" transform="rotate(-225 701.5 502.3)"/></g>
<g transform="rotate(240 701.5 502.3)" mask="url(#wm)" filter="url(#n16)"><use href="#amp" transform="rotate(-240 701.5 502.3)"/></g>
<g transform="rotate(255 701.5 502.3)" mask="url(#wm)" filter="url(#n17)"><use href="#amp" transform="rotate(-255 701.5 502.3)"/></g>
<g transform="rotate(270 701.5 502.3)" mask="url(#wm)" filter="url(#n18)"><use href="#amp" transform="rotate(-270 701.5 502.3)"/></g>
<g transform="rotate(285 701.5 502.3)" mask="url(#wm)" filter="url(#n19)"><use href="#amp" transform="rotate(-285 701.5 502.3)"/></g>
<g transform="rotate(300 701.5 502.3)" mask="url(#wm)" filter="url(#n20)"><use href="#amp" transform="rotate(-300 701.5 502.3)"/></g>
<g transform="rotate(315 701.5 502.3)" mask="url(#wm)" filter="url(#n21)"><use href="#amp" transform="rotate(-315 701.5 502.3)"/></g>
<g transform="rotate(330 701.5 502.3)" mask="url(#wm)" filter="url(#n22)"><use href="#amp" transform="rotate(-330 701.5 502.3)"/></g>
<g transform="rotate(345 701.5 502.3)" mask="url(#wm)" filter="url(#n23)"><use href="#amp" transform="rotate(-345 701.5 502.3)"/></g>
<g transform="rotate(0 701.5 502.3)" mask="url(#wm2)" filter="url(#n0)"><use href="#amp" transform="rotate(-0 701.5 502.3)"/></g>
<g filter="url(#b1)" fill="none" stroke-linecap="round" stroke-linejoin="round">
<polyline stroke="#dddddd" stroke-width="5.3" points="440.0,267.0 441.0,276.0 443.4,284.4 446.0,289.6"/>
<polyline stroke="#f3f3f3" stroke-width="6.2" points="444.0,301.0 447.4,307.0 452.0,314.0 456.0,317.6"/>
<polyline stroke="#f3f3f3" stroke-width="7.0" points="456.4,327.6 461.6,331.0 468.0,333.4 474.0,336.4 479.0,341.0 484.0,345.6 488.0,347.6"/>
<polyline stroke="#e2e2e2" stroke-width="5.3" points="465.0,302.4 471.0,304.0 478.0,306.0"/>
<polyline stroke="#e6e6e6" stroke-width="5.9" points="474.0,318.0 482.0,319.0 490.0,320.4 495.0,322.0"/>
<polyline stroke="#d9d9d9" stroke-width="4.6" points="495.0,331.0 500.0,334.0 506.0,338.0 511.0,341.0"/>
<polyline stroke="#e2e2e2" stroke-width="5.3" points="475.0,356.0 479.0,362.0 486.0,365.0 494.0,365.0 499.0,364.0"/>
<polyline stroke="#e6e6e6" stroke-width="4.6" points="499.0,351.0 502.0,358.0 506.0,365.0 509.0,369.0"/>
<polyline stroke="#ebebeb" stroke-width="4.4" points="514.0,352.0 518.0,358.0 521.0,362.0"/>
<polyline stroke="#d9d9d9" stroke-width="5.3" points="493.0,295.6 499.0,296.4 503.0,297.0"/>
<polyline stroke="#e2e2e2" stroke-width="5.9" points="534.0,263.0 539.0,268.0 545.0,272.0"/>
<polyline stroke="#cbcbcb" stroke-width="6.2" points="528.0,289.0 535.0,291.0 540.0,293.0"/>
<polyline stroke="#d9d9d9" stroke-width="6.2" points="558.0,280.0 565.0,282.0 570.0,285.0"/>
<polyline stroke="#e2e2e2" stroke-width="3.7" points="538.0,334.0 540.0,339.0 541.0,343.0"/>
<ellipse fill="#e2e2e2" rx="3.3" ry="3.0" transform="translate(570.5 309.0) rotate(34)"/>
<ellipse fill="#e6e6e6" rx="5.4" ry="3.0" transform="translate(564.0 372.5) rotate(40)"/>
<ellipse fill="#e2e2e2" rx="4.2" ry="2.7" transform="translate(558.0 380.0) rotate(45)"/>
<ellipse fill="#e2e2e2" rx="3.5" ry="2.7" transform="translate(561.5 388.5) rotate(45)"/>
<ellipse fill="#cbcbcb" rx="3.8" ry="2.7" transform="translate(551.5 388.0) rotate(53)"/>
<ellipse fill="#cbcbcb" rx="4.2" ry="3.4" transform="translate(589.5 270.0) rotate(53)"/>
<ellipse fill="#cbcbcb" rx="6.0" ry="3.4" transform="translate(602.5 281.5) rotate(54)"/>
<ellipse fill="#cbcbcb" rx="4.8" ry="3.4" transform="translate(579.0 255.0) rotate(72)"/>
<polyline stroke="#262626" stroke-width="3.7" points="461.0,304.0 462.4,310.0 463.6,317.0"/>
<polyline stroke="#0c0c0c" stroke-width="4.6" points="486.0,304.0 491.0,310.0 495.0,315.0 498.0,319.0"/>
<polyline stroke="#0c0c0c" stroke-width="5.3" points="471.0,321.0 478.0,324.4 485.0,327.0 491.0,328.0"/>
<polyline stroke="#262626" stroke-width="4.0" points="498.0,324.0 504.0,327.0 509.0,330.0"/>
<polyline stroke="#3e3e3e" stroke-width="5.3" points="454.0,334.0 458.0,340.0 463.0,346.0"/>
<polyline stroke="#262626" stroke-width="5.3" points="529.0,268.0 533.0,275.0 538.0,282.0 546.0,286.0 554.0,288.0 560.0,290.0"/>
<polyline stroke="#222222" stroke-width="5.3" points="571.0,276.0 578.0,283.0 584.0,290.0"/>
<polyline stroke="#262626" stroke-width="5.3" points="558.0,297.0 564.0,301.0 572.0,302.4 578.0,301.0"/>
<polyline stroke="#262626" stroke-width="4.0" points="563.0,310.0 568.0,308.0 572.0,304.0"/>
<polyline stroke="#191919" stroke-width="4.6" points="542.0,329.0 545.0,334.0 548.0,339.0"/>
<polyline stroke="#393939" stroke-width="3.5" points="503.0,280.0 506.0,285.0 509.0,291.0"/>
<ellipse fill="#2f2f2f" rx="4.9" ry="2.7" transform="translate(523.5 274.5) rotate(82)"/>
<ellipse fill="#262626" rx="4.3" ry="3.0" transform="translate(530.0 343.0) rotate(45)"/>
<ellipse fill="#262626" rx="3.6" ry="2.7" transform="translate(512.0 364.0) rotate(63)"/>
<polyline stroke="#494949" stroke-width="5.3" points="456.0,356.0 463.0,364.0 470.0,372.0 478.0,378.0 486.0,383.0"/>
<polyline stroke="#2f2f2f" stroke-width="3.7" points="540.0,365.0 545.0,368.0 550.0,372.0"/>
<ellipse fill="#2f2f2f" rx="4.0" ry="2.7" transform="translate(566.5 369.0) rotate(-22)"/>
<ellipse fill="#262626" rx="4.2" ry="2.7" transform="translate(554.0 382.0) rotate(45)"/>
<ellipse fill="#2f2f2f" rx="3.4" ry="2.4" transform="translate(562.0 389.0) rotate(-27)"/>
<ellipse fill="#e2e2e2" rx="3.5" ry="2.8" transform="translate(878.0 299.5) rotate(14)"/>
<ellipse fill="#c6c6c6" rx="4.2" ry="3.4" transform="translate(901.0 297.5) rotate(-37)"/>
<ellipse fill="#e2e2e2" rx="3.2" ry="2.5" transform="translate(887.8 309.5) rotate(51)"/>
<ellipse fill="#393939" rx="4.3" ry="3.4" transform="translate(877.5 305.0) rotate(-13)"/>
<polyline stroke="#0c0c0c" stroke-width="9.2" points="898.0,317.0 906.0,315.6 912.0,313.0 916.0,311.0"/>
<ellipse fill="#f3f3f3" rx="5.1" ry="4.1" transform="translate(917.0 316.8) rotate(-15)"/>
<ellipse fill="#ebebeb" rx="7.5" ry="5.9" transform="translate(917.3 329.5) rotate(86)"/>
<ellipse fill="#262626" rx="2.8" ry="3.4" transform="translate(920.0 339.5) rotate(27)"/>
<ellipse fill="#393939" rx="4.6" ry="2.8" transform="translate(931.0 324.0) rotate(-18)"/>
<polyline stroke="#f3f3f3" stroke-width="10.3" points="915.0,351.0 922.0,347.0 926.0,345.0"/>
<ellipse fill="#262626" rx="3.9" ry="2.5" transform="translate(932.5 349.0) rotate(-22)"/>
<ellipse fill="#c6c6c6" rx="3.2" ry="2.8" transform="translate(908.5 352.0) rotate(-34)"/>
<ellipse fill="#cbcbcb" rx="4.0" ry="4.4" transform="translate(927.5 360.0) rotate(34)"/>
<ellipse fill="#262626" rx="2.9" ry="2.2" transform="translate(922.5 355.4) rotate(34)"/>
<polyline stroke="#ebebeb" stroke-width="8.0" points="910.0,368.0 914.0,363.0 916.4,360.0"/>
<polyline stroke="#1d1d1d" stroke-width="6.9" points="911.0,375.6 916.0,371.6 922.0,369.6"/>
<polyline stroke="#efefef" stroke-width="8.6" points="922.4,384.0 926.0,381.0 929.0,378.0"/>
<ellipse fill="#c6c6c6" rx="3.2" ry="2.8" transform="translate(905.5 364.0) rotate(34)"/>
<ellipse fill="#c6c6c6" rx="2.9" ry="2.2" transform="translate(916.0 382.5) rotate(-56)"/>
<polyline stroke="#0c0c0c" stroke-width="8.6" points="918.0,392.0 926.0,393.0 936.0,393.0 945.0,391.6 950.0,390.0"/>
<polyline stroke="#ebebeb" stroke-width="7.4" points="936.0,400.0 942.0,399.6 948.0,401.0"/>
<ellipse fill="#e6e6e6" rx="3.9" ry="2.8" transform="translate(953.5 402.7) rotate(-7)"/>
<ellipse fill="#1d1d1d" rx="2.0" ry="1.9" transform="translate(939.3 407.0) rotate(73)"/>
<polyline stroke="#f3f3f3" stroke-width="8.6" points="934.0,412.0 940.0,413.0 946.0,412.0"/>
<polyline stroke="#0c0c0c" stroke-width="6.9" points="936.0,419.0 943.0,418.4 950.0,418.0"/>
<polyline stroke="#ebebeb" stroke-width="8.6" points="936.0,427.0 942.0,425.6 948.0,424.4"/>
<ellipse fill="#222222" rx="4.1" ry="4.1" transform="translate(957.0 423.5) rotate(14)"/>
<ellipse fill="#e6e6e6" rx="3.6" ry="2.8" transform="translate(958.0 432.0) rotate(-27)"/>
<ellipse fill="#2f2f2f" rx="2.7" ry="2.2" transform="translate(959.5 438.5) rotate(-18)"/>
<ellipse fill="#2f2f2f" rx="3.8" ry="3.4" transform="translate(940.0 437.5) rotate(14)"/>
<ellipse fill="#d0d0d0" rx="2.9" ry="2.2" transform="translate(951.3 435.0) rotate(-19)"/>
<polyline stroke="#ebebeb" stroke-width="7.4" points="938.0,445.6 944.0,446.4 950.0,447.0"/>
<polyline stroke="#0c0c0c" stroke-width="10.3" points="939.0,454.0 946.0,453.6 952.0,451.6 956.0,449.0"/>
<polyline stroke="#ebebeb" stroke-width="5.7" points="936.0,458.0 942.0,460.0 950.0,462.0 956.0,459.0 958.0,455.0"/>
<ellipse fill="#cbcbcb" rx="2.9" ry="2.2" transform="translate(933.0 454.5) rotate(56)"/>
<ellipse fill="#262626" rx="4.3" ry="2.5" transform="translate(957.0 466.3) rotate(-13)"/>
<ellipse fill="#d0d0d0" rx="3.1" ry="2.5" transform="translate(943.5 469.0) rotate(34)"/>
<ellipse fill="#d9d9d9" rx="5.2" ry="3.4" transform="translate(888.5 474.2) rotate(-3)"/>
<ellipse fill="#dddddd" rx="3.8" ry="3.4" transform="translate(912.0 472.0) rotate(11)"/>
<polyline stroke="#e6e6e6" stroke-width="8.0" points="936.0,473.0 942.0,472.0 948.0,475.0"/>
<polyline stroke="#393939" stroke-width="4.6" points="888.0,462.4 898.0,461.6 904.0,459.0"/>
<ellipse fill="#d0d0d0" rx="4.6" ry="2.8" transform="translate(925.0 476.0) rotate(-18)"/>
<ellipse fill="#222222" rx="5.7" ry="3.4" transform="translate(845.5 284.0) rotate(-30)"/>
<ellipse fill="#e2e2e2" rx="3.5" ry="2.8" transform="translate(854.5 284.0) rotate(76)"/>
<ellipse fill="#2f2f2f" rx="3.9" ry="2.8" transform="translate(865.5 287.0) rotate(-53)"/>
<ellipse fill="#cbcbcb" rx="3.8" ry="3.1" transform="translate(879.0 284.0) rotate(-63)"/>
<ellipse fill="#393939" rx="4.3" ry="2.8" transform="translate(883.5 292.5) rotate(-31)"/>
<ellipse fill="#c6c6c6" rx="3.5" ry="2.8" transform="translate(853.5 338.5) rotate(-45)"/>
<ellipse fill="#3e3e3e" rx="3.7" ry="2.5" transform="translate(861.5 343.0) rotate(53)"/>
<ellipse fill="#c1c1c1" rx="3.3" ry="2.2" transform="translate(848.0 318.0) rotate(63)"/>
<ellipse fill="#2f2f2f" rx="3.1" ry="1.9" transform="translate(855.5 331.5) rotate(45)"/>
<ellipse fill="#393939" rx="5.6" ry="2.2" transform="translate(864.0 406.0) rotate(-27)"/>
<ellipse fill="#c6c6c6" rx="3.8" ry="2.2" transform="translate(863.5 423.0) rotate(-22)"/>
<ellipse fill="#c6c6c6" rx="2.5" ry="1.9" transform="translate(861.5 379.5) rotate(18)"/>
<ellipse fill="#3e3e3e" rx="2.7" ry="2.2" transform="translate(877.5 443.5) rotate(-18)"/>
<ellipse fill="#444444" rx="3.2" ry="2.2" transform="translate(881.0 365.5) rotate(-14)"/>
<ellipse fill="#c1c1c1" rx="2.5" ry="1.9" transform="translate(871.5 382.5) rotate(-18)"/>
<ellipse fill="#444444" rx="3.8" ry="2.2" transform="translate(1004.5 355.0) rotate(-22)"/>
<ellipse fill="#bbbbbb" rx="5.4" ry="2.2" transform="translate(996.0 369.5) rotate(-21)"/>
<ellipse fill="#bbbbbb" rx="3.2" ry="2.2" transform="translate(1013.0 359.5) rotate(-14)"/>
<ellipse fill="#444444" rx="3.2" ry="2.2" transform="translate(947.0 285.5) rotate(-14)"/>
<ellipse fill="#bbbbbb" rx="3.2" ry="2.8" transform="translate(978.0 298.5) rotate(56)"/>
<ellipse fill="#444444" rx="4.0" ry="1.9" transform="translate(974.0 322.5) rotate(-9)"/>
<ellipse fill="#b6b6b6" rx="2.7" ry="2.2" transform="translate(1011.5 420.5) rotate(-18)"/>
<ellipse fill="#494949" rx="2.7" ry="1.9" transform="translate(1026.5 395.0) rotate(-34)"/>
<ellipse fill="#e6e6e6" rx="7.2" ry="3.6" transform="translate(942.0 446.0) rotate(18)"/>
<polyline stroke="#0c0c0c" stroke-width="8.6" points="942.0,454.0 948.0,452.0 954.0,449.0"/>
<polyline stroke="#ebebeb" stroke-width="4.6" points="934.0,456.0 941.0,460.0 950.0,461.6 957.0,459.0 959.0,455.0"/>
<ellipse fill="#262626" rx="5.5" ry="1.9" transform="translate(936.5 464.0) rotate(22)"/>
<polyline stroke="#262626" stroke-width="4.0" points="950.0,470.0 958.0,467.0 962.0,465.6"/>
<ellipse fill="#e6e6e6" rx="7.2" ry="3.6" transform="translate(939.0 471.0) rotate(-18)"/>
<polyline stroke="#e6e6e6" stroke-width="6.6" points="944.0,477.0 950.0,479.0 956.0,481.0"/>
<polyline stroke="#343434" stroke-width="4.0" points="886.0,462.0 896.0,461.0 906.0,458.4"/>
<ellipse fill="#d9d9d9" rx="8.1" ry="2.5" transform="translate(888.0 475.0) rotate(-9)"/>
<ellipse fill="#e2e2e2" rx="5.5" ry="2.5" transform="translate(911.5 471.3) rotate(-7)"/>
<ellipse fill="#c6c6c6" rx="5.9" ry="3.3" transform="translate(923.5 475.8) rotate(-5)"/>
<ellipse fill="#dddddd" rx="5.6" ry="2.5" transform="translate(902.5 477.5) rotate(-11)"/>
<ellipse fill="#e6e6e6" rx="5.5" ry="2.5" transform="translate(909.5 481.8) rotate(-5)"/>
<ellipse fill="#cbcbcb" rx="4.7" ry="2.5" transform="translate(924.0 480.8) rotate(-6)"/>
<ellipse fill="#d9d9d9" rx="7.2" ry="2.5" transform="translate(901.5 487.8) rotate(-3)"/>
<ellipse fill="#262626" rx="5.2" ry="1.9" transform="translate(911.5 486.4) rotate(0)"/>
<ellipse fill="#222222" rx="7.9" ry="2.2" transform="translate(925.0 486.7) rotate(-4)"/>
<ellipse fill="#1d1d1d" rx="7.2" ry="2.5" transform="translate(944.5 484.2) rotate(3)"/>
<ellipse fill="#c6c6c6" rx="3.4" ry="1.9" transform="translate(935.0 486.0) rotate(45)"/>
<ellipse fill="#cbcbcb" rx="6.3" ry="2.2" transform="translate(874.0 487.5) rotate(-9)"/>
<ellipse fill="#262626" rx="7.8" ry="1.9" transform="translate(895.0 493.5) rotate(-7)"/>
<ellipse fill="#101010" rx="7.4" ry="2.8" transform="translate(916.5 493.3) rotate(-5)"/>
<ellipse fill="#222222" rx="5.4" ry="2.2" transform="translate(938.5 493.8) rotate(-5)"/>
<ellipse fill="#262626" rx="6.1" ry="1.9" transform="translate(951.0 494.2) rotate(-4)"/>
<ellipse fill="#e6e6e6" rx="5.4" ry="2.2" transform="translate(907.5 496.7) rotate(7)"/>
<polyline stroke="#ebebeb" stroke-width="4.6" points="914.0,499.0 924.0,498.4 934.0,499.0 944.0,499.6 953.0,499.0"/>
<polyline stroke="#222222" stroke-width="3.5" points="920.0,503.6 928.0,504.0 936.0,503.6"/>
<polyline stroke="#dddddd" stroke-width="5.1" points="890.0,506.0 898.0,504.4 905.0,503.6"/>
<ellipse fill="#222222" rx="7.2" ry="2.5" transform="translate(899.5 515.3) rotate(5)"/>
<ellipse fill="#262626" rx="7.1" ry="2.2" transform="translate(918.5 516.5) rotate(8)"/>
<ellipse fill="#c6c6c6" rx="3.5" ry="1.9" transform="translate(889.5 519.8) rotate(8)"/>
<ellipse fill="#222222" rx="9.2" ry="3.0" transform="translate(939.5 520.5) rotate(6)"/>
<polyline stroke="#e6e6e6" stroke-width="4.0" points="903.0,525.0 912.0,523.6 921.0,522.0 929.0,521.0"/>
<ellipse fill="#d9d9d9" rx="6.5" ry="2.8" transform="translate(939.0 526.2) rotate(4)"/>
<ellipse fill="#262626" rx="6.1" ry="1.9" transform="translate(905.0 530.2) rotate(4)"/>
<ellipse fill="#141414" rx="6.8" ry="2.8" transform="translate(929.0 528.0) rotate(18)"/>
<ellipse fill="#262626" rx="11.3" ry="2.2" transform="translate(940.0 531.8) rotate(-2)"/>
<ellipse fill="#dddddd" rx="7.2" ry="2.5" transform="translate(912.5 535.8) rotate(-3)"/>
<ellipse fill="#d9d9d9" rx="7.5" ry="3.0" transform="translate(946.5 539.0) rotate(0)"/>
<ellipse fill="#dddddd" rx="8.6" ry="1.9" transform="translate(925.5 543.3) rotate(-4)"/>
<ellipse fill="#2f2f2f" rx="6.3" ry="2.2" transform="translate(915.0 544.5) rotate(9)"/>
<ellipse fill="#cbcbcb" rx="3.5" ry="1.9" transform="translate(877.5 548.0) rotate(0)"/>
<ellipse fill="#d0d0d0" rx="3.6" ry="1.9" transform="translate(919.5 554.7) rotate(11)"/>
<ellipse fill="#d9d9d9" rx="10.0" ry="3.0" transform="translate(939.0 560.0) rotate(5)"/>
<ellipse fill="#cbcbcb" rx="3.4" ry="1.7" transform="translate(900.5 560.6) rotate(0)"/>
<ellipse fill="#393939" rx="5.4" ry="1.7" transform="translate(900.5 555.0) rotate(22)"/>
<polyline stroke="#343434" stroke-width="4.0" points="942.0,569.0 950.0,567.6 956.0,567.0"/>
<polyline stroke="#c6c6c6" stroke-width="3.5" points="934.0,578.0 944.0,575.0 954.0,572.4"/>
<polyline stroke="#e2e2e2" stroke-width="5.6" points="916.0,580.0 921.0,582.0 925.0,588.0 927.0,593.0"/>
<ellipse fill="#1d1d1d" rx="7.5" ry="3.0" transform="translate(915.5 587.5) rotate(8)"/>
<polyline stroke="#e6e6e6" stroke-width="5.6" points="904.0,590.0 909.0,592.0 913.0,595.0"/>
<ellipse fill="#d0d0d0" rx="3.8" ry="2.2" transform="translate(879.5 593.5) rotate(18)"/>
<polyline stroke="#d4d4d4" stroke-width="5.6" points="886.0,595.6 894.0,598.0 900.0,602.0"/>
<ellipse fill="#e2e2e2" rx="5.2" ry="3.0" transform="translate(916.0 600.8) rotate(22)"/>
<ellipse fill="#262626" rx="4.3" ry="1.7" transform="translate(921.0 598.5) rotate(14)"/>
<polyline stroke="#1d1d1d" stroke-width="5.6" points="912.0,606.4 919.0,608.0 924.0,609.0"/>
<ellipse fill="#d0d0d0" rx="7.3" ry="2.8" transform="translate(916.5 615.8) rotate(3)"/>
<ellipse fill="#e6e6e6" rx="6.4" ry="3.6" transform="translate(880.5 617.0) rotate(22)"/>
<ellipse fill="#262626" rx="4.1" ry="2.5" transform="translate(873.7 618.5) rotate(65)"/>
<ellipse fill="#d9d9d9" rx="8.5" ry="3.3" transform="translate(992.0 570.5) rotate(7)"/>
<polyline stroke="#262626" stroke-width="5.6" points="985.0,580.0 990.0,582.4 996.0,584.0"/>
<ellipse fill="#393939" rx="5.2" ry="1.7" transform="translate(976.5 580.5) rotate(11)"/>
<ellipse fill="#c6c6c6" rx="5.1" ry="1.7" transform="translate(976.5 575.8) rotate(5)"/>
<polyline stroke="#d4d4d4" stroke-width="6.1" points="980.0,594.0 988.0,595.6 993.0,597.0"/>
<ellipse fill="#d0d0d0" rx="6.8" ry="3.0" transform="translate(973.0 601.7) rotate(13)"/>
<polyline stroke="#d0d0d0" stroke-width="5.1" points="990.0,606.0 998.0,606.4 1003.0,607.0"/>
<polyline stroke="#262626" stroke-width="5.1" points="968.0,612.0 973.0,616.0 978.0,618.0"/>
<ellipse fill="#dddddd" rx="6.6" ry="2.8" transform="translate(1020.0 609.5) rotate(9)"/>
<ellipse fill="#2f2f2f" rx="6.5" ry="2.2" transform="translate(973.0 624.0) rotate(18)"/>
<ellipse fill="#222222" rx="6.9" ry="3.0" transform="translate(971.0 634.0) rotate(18)"/>
<ellipse fill="#d9d9d9" rx="6.9" ry="3.0" transform="translate(997.0 636.0) rotate(18)"/>
<ellipse fill="#2f2f2f" rx="5.4" ry="2.2" transform="translate(1011.5 632.2) rotate(5)"/>
<ellipse fill="#cbcbcb" rx="8.9" ry="2.2" transform="translate(1020.5 514.8) rotate(10)"/>
<ellipse fill="#c6c6c6" rx="5.3" ry="1.9" transform="translate(1013.5 530.5) rotate(-11)"/>
<ellipse fill="#cbcbcb" rx="6.7" ry="2.5" transform="translate(1025.0 485.5) rotate(-51)"/>
<ellipse fill="#393939" rx="4.7" ry="2.5" transform="translate(1026.0 497.5) rotate(-14)"/>
<ellipse fill="#cbcbcb" rx="7.1" ry="2.2" transform="translate(1023.5 566.5) rotate(8)"/>
<ellipse fill="#c6c6c6" rx="6.1" ry="1.9" transform="translate(1025.0 599.5) rotate(9)"/>
<ellipse fill="#393939" rx="5.1" ry="1.7" transform="translate(1021.5 605.0) rotate(0)"/>
<ellipse fill="#3e3e3e" rx="6.8" ry="1.7" transform="translate(863.5 568.5) rotate(8)"/>
<ellipse fill="#c6c6c6" rx="4.0" ry="1.9" transform="translate(834.0 601.5) rotate(56)"/>
<polyline stroke="#2f2f2f" stroke-width="4.0" points="845.0,630.0 852.0,635.0 857.0,637.0"/>
<ellipse fill="#c6c6c6" rx="6.1" ry="1.9" transform="translate(849.5 623.0) rotate(81)"/>
<ellipse fill="#c6c6c6" rx="5.7" ry="2.2" transform="translate(877.0 634.5) rotate(68)"/>
<ellipse fill="#3e3e3e" rx="5.3" ry="1.9" transform="translate(864.5 524.5) rotate(-11)"/>
<ellipse fill="#c6c6c6" rx="2.4" ry="1.4" transform="translate(866.0 504.0) rotate(0)"/>
<polyline stroke="#d0d0d0" stroke-width="5.1" points="715.0,174.0 714.0,180.0 716.0,188.0 717.0,193.0"/>
<polyline stroke="#cbcbcb" stroke-width="4.6" points="774.0,175.0 771.0,182.0 769.0,188.0 766.0,193.0"/>
<ellipse fill="#d0d0d0" rx="3.9" ry="2.8" transform="translate(725.5 201.0) rotate(53)"/>
<polyline stroke="#e6e6e6" stroke-width="5.7" points="748.0,197.0 751.0,203.0 753.0,208.0"/>
<ellipse fill="#2b2b2b" rx="3.4" ry="3.1" transform="translate(735.0 201.5) rotate(56)"/>
<ellipse fill="#dddddd" rx="2.9" ry="2.8" transform="translate(719.0 217.5) rotate(90)"/>
<polyline stroke="#343434" stroke-width="4.6" points="741.0,208.0 739.0,214.0 736.0,218.0"/>
<ellipse fill="#e6e6e6" rx="4.0" ry="2.8" transform="translate(742.5 222.5) rotate(79)"/>
<polyline stroke="#1d1d1d" stroke-width="7.4" points="748.0,222.0 751.0,229.0 753.0,232.0"/>
<ellipse fill="#d9d9d9" rx="3.7" ry="2.5" transform="translate(755.5 220.0) rotate(53)"/>
<ellipse fill="#2f2f2f" rx="4.3" ry="2.2" transform="translate(763.0 208.0) rotate(-18)"/>
<polyline stroke="#f3f3f3" stroke-width="8.0" points="782.0,209.0 779.0,216.0 776.0,220.0 770.0,227.0 768.0,232.0"/>
<ellipse fill="#262626" rx="3.7" ry="2.5" transform="translate(764.0 223.5) rotate(37)"/>
<ellipse fill="#e6e6e6" rx="4.3" ry="2.5" transform="translate(776.3 230.0) rotate(103)"/>
<ellipse fill="#222222" rx="3.8" ry="2.5" transform="translate(780.5 226.5) rotate(101)"/>
<ellipse fill="#222222" rx="3.4" ry="3.1" transform="translate(783.5 236.0) rotate(34)"/>
<ellipse fill="#2f2f2f" rx="2.7" ry="2.2" transform="translate(792.5 229.5) rotate(108)"/>
<polyline stroke="#e6e6e6" stroke-width="6.3" points="822.0,207.0 818.0,213.0 812.0,218.0 806.0,221.0 800.0,223.0"/>
<polyline stroke="#e6e6e6" stroke-width="3.4" points="834.0,212.0 844.0,213.6 854.0,212.0 860.0,210.0"/>
<polyline stroke="#2f2f2f" stroke-width="8.6" points="796.0,171.0 800.0,178.0 801.0,186.0 803.0,196.0"/>
<ellipse fill="#2f2f2f" rx="2.4" ry="1.9" transform="translate(783.8 169.5) rotate(98)"/>
<ellipse fill="#e6e6e6" rx="4.8" ry="2.5" transform="translate(795.5 236.5) rotate(98)"/>
<ellipse fill="#262626" rx="2.5" ry="2.8" transform="translate(799.5 241.0) rotate(63)"/>
<polyline stroke="#262626" stroke-width="4.6" points="809.0,240.0 815.0,239.0 821.0,238.4"/>
<ellipse fill="#2f2f2f" rx="2.1" ry="1.9" transform="translate(828.5 230.0) rotate(63)"/>
<ellipse fill="#d0d0d0" rx="1.5" ry="1.6" transform="translate(832.2 229.7) rotate(74)"/>
<ellipse fill="#d0d0d0" rx="1.9" ry="1.6" transform="translate(827.5 240.0) rotate(63)"/>
<ellipse fill="#2f2f2f" rx="2.1" ry="1.9" transform="translate(831.5 241.0) rotate(63)"/>
<ellipse fill="#d0d0d0" rx="2.1" ry="1.9" transform="translate(836.5 243.0) rotate(63)"/>
<ellipse fill="#d0d0d0" rx="2.1" ry="1.9" transform="translate(819.0 244.5) rotate(27)"/>
<polyline stroke="#d0d0d0" stroke-width="4.0" points="860.0,224.0 858.0,229.0 855.0,235.0 852.0,240.0"/>
<ellipse fill="#2f2f2f" rx="4.3" ry="1.9" transform="translate(863.5 229.0) rotate(117)"/>
<ellipse fill="#2f2f2f" rx="2.2" ry="2.2" transform="translate(848.5 240.0) rotate(63)"/>
<polyline stroke="#cbcbcb" stroke-width="4.0" points="784.0,244.0 785.0,250.0 787.0,255.0"/>
<ellipse fill="#cbcbcb" rx="3.8" ry="2.2" transform="translate(761.0 248.5) rotate(68)"/>
<ellipse fill="#2f2f2f" rx="2.7" ry="2.2" transform="translate(768.5 253.5) rotate(72)"/>
<ellipse fill="#c6c6c6" rx="4.3" ry="2.2" transform="translate(776.0 259.0) rotate(108)"/>
<ellipse fill="#cbcbcb" rx="4.9" ry="2.5" transform="translate(705.0 247.0) rotate(56)"/>
<ellipse fill="#c6c6c6" rx="3.0" ry="1.9" transform="translate(716.5 264.0) rotate(76)"/>
<ellipse fill="#393939" rx="4.1" ry="2.2" transform="translate(721.0 263.0) rotate(90)"/>
<ellipse fill="#c6c6c6" rx="4.7" ry="2.2" transform="translate(740.0 254.5) rotate(106)"/>
<ellipse fill="#2f2f2f" rx="1.9" ry="1.6" transform="translate(732.5 249.0) rotate(63)"/>
<polyline stroke="#ebebeb" stroke-width="6.9" points="813.0,252.0 809.0,258.0 806.0,264.0"/>
<polyline stroke="#191919" stroke-width="6.3" points="819.0,254.0 816.0,260.0 812.0,266.0 810.0,270.0"/>
<polyline stroke="#ebebeb" stroke-width="8.0" points="838.0,250.0 834.0,256.0 830.0,261.0"/>
<ellipse fill="#d0d0d0" rx="3.0" ry="1.9" transform="translate(823.5 260.0) rotate(104)"/>
<ellipse fill="#2f2f2f" rx="2.7" ry="2.2" transform="translate(829.5 267.5) rotate(18)"/>
<polyline stroke="#191919" stroke-width="6.3" points="858.0,249.0 854.0,256.0 849.0,261.0 843.0,265.0"/>
<polyline stroke="#dddddd" stroke-width="4.6" points="867.0,253.0 867.6,259.0 868.0,264.0"/>
<ellipse fill="#d0d0d0" rx="3.0" ry="1.9" transform="translate(856.5 265.0) rotate(76)"/>
<polyline stroke="#1d1d1d" stroke-width="5.7" points="870.0,272.0 878.0,271.0 884.0,269.0"/>
<ellipse fill="#cbcbcb" rx="3.3" ry="2.2" transform="translate(879.0 280.0) rotate(63)"/>
<ellipse fill="#cbcbcb" rx="2.2" ry="2.2" transform="translate(894.5 277.0) rotate(63)"/>
<polyline stroke="#1d1d1d" stroke-width="5.7" points="852.0,275.0 848.0,281.0 843.0,286.0 839.0,289.0"/>
<ellipse fill="#e6e6e6" rx="2.8" ry="2.5" transform="translate(853.8 281.5) rotate(98)"/>
<ellipse fill="#e2e2e2" rx="1.8" ry="1.9" transform="translate(861.3 278.8) rotate(69)"/>
<ellipse fill="#2f2f2f" rx="2.2" ry="2.2" transform="translate(866.5 289.0) rotate(63)"/>
<ellipse fill="#cbcbcb" rx="4.5" ry="1.9" transform="translate(836.5 272.5) rotate(82)"/>
<ellipse fill="#d9d9d9" rx="3.8" ry="2.5" transform="translate(815.5 272.5) rotate(79)"/>
<ellipse fill="#e2e2e2" rx="2.1" ry="1.9" transform="translate(820.5 280.0) rotate(63)"/>
<ellipse fill="#2b2b2b" rx="3.3" ry="3.4" transform="translate(791.5 275.5) rotate(72)"/>
<polyline stroke="#f3f3f3" stroke-width="6.9" points="815.0,287.0 813.0,294.0 811.0,300.0"/>
<ellipse fill="#2f2f2f" rx="2.7" ry="2.2" transform="translate(808.5 291.5) rotate(108)"/>
<polyline stroke="#262626" stroke-width="6.3" points="822.0,298.0 820.0,303.0 816.0,307.0 811.0,310.0"/>
<ellipse fill="#d0d0d0" rx="3.8" ry="2.2" transform="translate(807.0 300.5) rotate(68)"/>
<polyline stroke="#e6e6e6" stroke-width="5.7" points="802.0,313.0 800.0,318.0 798.0,322.0"/>
<ellipse fill="#2b2b2b" rx="2.7" ry="2.2" transform="translate(795.5 311.5) rotate(72)"/>
<ellipse fill="#262626" rx="3.5" ry="2.8" transform="translate(804.5 323.0) rotate(104)"/>
<ellipse fill="#cbcbcb" rx="2.6" ry="2.2" transform="translate(811.8 325.5) rotate(98)"/>
<ellipse fill="#c6c6c6" rx="4.1" ry="2.2" transform="translate(789.5 309.0) rotate(99)"/>
<ellipse fill="#393939" rx="4.1" ry="2.2" transform="translate(742.5 291.0) rotate(81)"/>
<ellipse fill="#c1c1c1" rx="2.4" ry="1.9" transform="translate(757.0 291.5) rotate(90)"/>
<ellipse fill="#e6e6e6" rx="2.7" ry="2.2" transform="translate(878.5 298.5) rotate(18)"/>
<ellipse fill="#e6e6e6" rx="2.0" ry="1.9" transform="translate(886.8 308.3) rotate(41)"/>
<ellipse fill="#2b2b2b" rx="5.6" ry="3.1" transform="translate(880.0 304.5) rotate(7)"/>
<ellipse fill="#2f2f2f" rx="2.9" ry="2.2" transform="translate(887.5 291.0) rotate(-34)"/>
<ellipse fill="#d0d0d0" rx="3.0" ry="3.1" transform="translate(899.0 299.0) rotate(45)"/>
<ellipse fill="#262626" rx="2.7" ry="2.2" transform="translate(898.5 316.5) rotate(18)"/>
<ellipse fill="#c6c6c6" rx="3.5" ry="1.9" transform="translate(847.5 315.5) rotate(101)"/>
<ellipse fill="#343434" rx="2.5" ry="1.9" transform="translate(840.5 310.5) rotate(108)"/>
<ellipse fill="#d0d0d0" rx="3.8" ry="2.5" transform="translate(853.5 340.5) rotate(101)"/>
<ellipse fill="#343434" rx="2.1" ry="1.9" transform="translate(858.5 344.0) rotate(117)"/>
<ellipse fill="#393939" rx="3.0" ry="1.9" transform="translate(860.5 328.0) rotate(76)"/>
<ellipse fill="#c6c6c6" rx="2.4" ry="1.9" transform="translate(827.0 315.0) rotate(45)"/>
<ellipse fill="#cbcbcb" rx="3.3" ry="2.2" transform="translate(877.0 356.0) rotate(117)"/>
<ellipse fill="#393939" rx="2.5" ry="2.2" transform="translate(829.0 356.0) rotate(45)"/>
<ellipse fill="#dddddd" rx="5.8" ry="2.5" transform="translate(712.5 654.5) rotate(84)"/>
<ellipse fill="#d9d9d9" rx="4.1" ry="2.2" transform="translate(730.5 658.0) rotate(81)"/>
<ellipse fill="#d9d9d9" rx="4.9" ry="2.5" transform="translate(755.0 669.5) rotate(74)"/>
<ellipse fill="#2f2f2f" rx="3.9" ry="2.8" transform="translate(715.8 678.5) rotate(95)"/>
<ellipse fill="#2f2f2f" rx="4.6" ry="2.2" transform="translate(733.3 690.5) rotate(85)"/>
<ellipse fill="#d0d0d0" rx="2.9" ry="1.9" transform="translate(738.2 697.0) rotate(84)"/>
<ellipse fill="#343434" rx="5.3" ry="2.5" transform="translate(714.2 697.0) rotate(87)"/>
<ellipse fill="#cbcbcb" rx="3.4" ry="1.9" transform="translate(719.0 693.5) rotate(90)"/>
<ellipse fill="#d4d4d4" rx="5.2" ry="3.4" transform="translate(729.0 711.5) rotate(90)"/>
<ellipse fill="#2b2b2b" rx="5.2" ry="3.4" transform="translate(736.7 711.5) rotate(85)"/>
<ellipse fill="#cbcbcb" rx="2.9" ry="1.9" transform="translate(731.0 686.0) rotate(90)"/>
<ellipse fill="#393939" rx="4.0" ry="1.9" transform="translate(697.3 684.0) rotate(84)"/>
<polyline stroke="#ebebeb" stroke-width="7.4" points="752.0,683.0 755.0,689.0 758.0,695.0"/>
<ellipse fill="#262626" rx="3.7" ry="2.2" transform="translate(759.7 686.5) rotate(74)"/>
<polyline stroke="#dddddd" stroke-width="4.6" points="764.0,685.0 767.0,692.0 770.0,698.0 773.0,704.0 776.0,712.0"/>
<ellipse fill="#d0d0d0" rx="4.3" ry="2.2" transform="translate(747.0 683.0) rotate(72)"/>
<ellipse fill="#2b2b2b" rx="4.9" ry="2.5" transform="translate(768.0 676.5) rotate(74)"/>
<ellipse fill="#d0d0d0" rx="5.4" ry="2.2" transform="translate(777.5 659.0) rotate(69)"/>
<polyline stroke="#ebebeb" stroke-width="6.9" points="781.0,667.0 784.0,674.0 787.0,680.0"/>
<ellipse fill="#e6e6e6" rx="4.0" ry="1.9" transform="translate(778.5 675.0) rotate(81)"/>
<ellipse fill="#1d1d1d" rx="5.4" ry="3.4" transform="translate(784.0 683.5) rotate(74)"/>
<ellipse fill="#d0d0d0" rx="3.5" ry="1.9" transform="translate(778.5 684.5) rotate(79)"/>
<polyline stroke="#dddddd" stroke-width="6.3" points="789.0,652.0 794.0,657.0 799.0,662.0 803.0,667.0"/>
<ellipse fill="#2b2b2b" rx="4.9" ry="2.2" transform="translate(787.5 664.5) rotate(67)"/>
<ellipse fill="#dddddd" rx="4.8" ry="2.8" transform="translate(806.5 671.0) rotate(63)"/>
<ellipse fill="#2f2f2f" rx="3.2" ry="2.2" transform="translate(800.5 675.0) rotate(76)"/>
<ellipse fill="#e6e6e6" rx="4.4" ry="2.5" transform="translate(804.0 684.0) rotate(72)"/>
<ellipse fill="#2f2f2f" rx="3.0" ry="1.9" transform="translate(808.5 681.0) rotate(76)"/>
<ellipse fill="#d9d9d9" rx="4.9" ry="2.5" transform="translate(811.0 695.5) rotate(74)"/>
<ellipse fill="#1d1d1d" rx="5.5" ry="2.8" transform="translate(814.0 693.0) rotate(76)"/>
<ellipse fill="#2f2f2f" rx="3.2" ry="2.8" transform="translate(819.0 663.5) rotate(56)"/>
<ellipse fill="#d0d0d0" rx="2.2" ry="2.2" transform="translate(815.5 668.0) rotate(63)"/>
<ellipse fill="#2b2b2b" rx="2.8" ry="2.5" transform="translate(820.5 675.5) rotate(72)"/>
<ellipse fill="#262626" rx="4.6" ry="3.4" transform="translate(831.5 652.5) rotate(59)"/>
<ellipse fill="#393939" rx="3.3" ry="2.2" transform="translate(823.0 647.0) rotate(63)"/>
<polyline stroke="#262626" stroke-width="5.7" points="833.0,676.0 835.0,683.0 838.0,689.0"/>
<polyline stroke="#d4d4d4" stroke-width="4.6" points="838.0,672.0 843.0,675.0 848.0,678.0"/>
<ellipse fill="#cbcbcb" rx="4.4" ry="2.2" transform="translate(831.0 663.5) rotate(27)"/>
<polyline stroke="#ebebeb" stroke-width="5.1" points="850.0,639.0 856.0,642.0 860.0,644.0"/>
<ellipse fill="#222222" rx="4.3" ry="2.2" transform="translate(855.0 636.0) rotate(18)"/>
<ellipse fill="#262626" rx="4.3" ry="2.2" transform="translate(857.0 647.0) rotate(18)"/>
<ellipse fill="#dddddd" rx="4.1" ry="2.8" transform="translate(869.5 648.0) rotate(22)"/>
<ellipse fill="#262626" rx="5.4" ry="3.1" transform="translate(874.5 641.5) rotate(23)"/>
<polyline stroke="#e6e6e6" stroke-width="5.1" points="878.0,615.0 883.0,618.0 887.0,620.0"/>
<ellipse fill="#2f2f2f" rx="2.9" ry="2.2" transform="translate(874.0 618.5) rotate(56)"/>
<ellipse fill="#d0d0d0" rx="3.6" ry="2.2" transform="translate(877.5 638.0) rotate(53)"/>
<ellipse fill="#cbcbcb" rx="4.1" ry="1.9" transform="translate(849.0 625.0) rotate(72)"/>
<ellipse fill="#cbcbcb" rx="3.6" ry="1.9" transform="translate(838.0 642.5) rotate(68)"/>
<ellipse fill="#cbcbcb" rx="3.2" ry="1.9" transform="translate(844.0 646.0) rotate(63)"/>
<ellipse fill="#343434" rx="3.2" ry="2.2" transform="translate(858.8 668.0) rotate(68)"/>
<ellipse fill="#cbcbcb" rx="2.5" ry="1.9" transform="translate(827.5 685.5) rotate(72)"/>
<ellipse fill="#393939" rx="4.0" ry="2.2" transform="translate(843.5 695.5) rotate(31)"/>
<polyline stroke="#c6c6c6" stroke-width="4.6" points="878.0,713.0 885.0,716.0 890.0,718.0"/>
<ellipse fill="#d0d0d0" rx="2.1" ry="1.9" transform="translate(842.5 704.0) rotate(63)"/>
<ellipse fill="#cbcbcb" rx="2.5" ry="1.9" transform="translate(847.5 715.5) rotate(72)"/>
<polyline stroke="#ebebeb" stroke-width="5.7" points="840.0,730.0 843.0,737.0 846.0,743.0 850.0,748.0 853.0,753.0"/>
<ellipse fill="#efefef" rx="6.5" ry="3.7" transform="translate(854.0 752.5) rotate(77)"/>
<ellipse fill="#ebebeb" rx="4.9" ry="3.4" transform="translate(829.0 767.0) rotate(72)"/>
<polyline stroke="#141414" stroke-width="7.4" points="837.0,757.0 838.4,763.0 839.6,768.0"/>
<ellipse fill="#262626" rx="4.6" ry="2.8" transform="translate(831.0 743.0) rotate(72)"/>
<ellipse fill="#d0d0d0" rx="2.7" ry="2.2" transform="translate(823.5 743.5) rotate(72)"/>
<ellipse fill="#2f2f2f" rx="3.9" ry="2.2" transform="translate(814.0 728.0) rotate(45)"/>
<ellipse fill="#343434" rx="2.7" ry="1.9" transform="translate(819.0 733.5) rotate(56)"/>
<ellipse fill="#343434" rx="3.8" ry="2.2" transform="translate(808.0 736.5) rotate(68)"/>
<ellipse fill="#cbcbcb" rx="1.9" ry="1.6" transform="translate(805.5 739.0) rotate(63)"/>
<ellipse fill="#c6c6c6" rx="2.5" ry="1.9" transform="translate(813.5 749.5) rotate(72)"/>
<polyline stroke="#dddddd" stroke-width="5.1" points="841.0,776.0 842.4,784.0 845.0,790.0 848.0,794.0"/>
<ellipse fill="#2f2f2f" rx="4.4" ry="2.5" transform="translate(831.0 779.0) rotate(18)"/>
<ellipse fill="#cbcbcb" rx="3.5" ry="1.9" transform="translate(827.5 784.5) rotate(79)"/>
<ellipse fill="#393939" rx="5.2" ry="2.2" transform="translate(850.0 786.0) rotate(76)"/>
<ellipse fill="#2b2b2b" rx="4.9" ry="2.8" transform="translate(834.5 798.5) rotate(82)"/>
<ellipse fill="#cbcbcb" rx="2.5" ry="1.9" transform="translate(828.5 798.5) rotate(72)"/>
<ellipse fill="#c6c6c6" rx="3.5" ry="1.9" transform="translate(815.5 765.5) rotate(79)"/>
<ellipse fill="#393939" rx="2.5" ry="1.9" transform="translate(822.5 771.5) rotate(72)"/>
<ellipse fill="#393939" rx="4.0" ry="1.9" transform="translate(816.5 799.0) rotate(81)"/>
<ellipse fill="#393939" rx="4.3" ry="2.2" transform="translate(795.0 761.0) rotate(72)"/>
<ellipse fill="#3e3e3e" rx="4.1" ry="1.9" transform="translate(798.0 774.0) rotate(72)"/>
<ellipse fill="#3e3e3e" rx="3.1" ry="1.9" transform="translate(786.3 793.0) rotate(71)"/>
<ellipse fill="#3e3e3e" rx="4.1" ry="2.2" transform="translate(751.5 725.0) rotate(81)"/>
<ellipse fill="#dddddd" rx="4.1" ry="2.2" transform="translate(725.5 772.0) rotate(81)"/>
<polyline stroke="#d0d0d0" stroke-width="5.1" points="698.0,746.0 696.0,754.0 693.0,759.0"/>
<ellipse fill="#ebebeb" rx="2.8" ry="2.5" transform="translate(690.5 739.5) rotate(72)"/>
<ellipse fill="#cbcbcb" rx="3.1" ry="2.2" transform="translate(698.2 800.0) rotate(84)"/>
<ellipse fill="#e6e6e6" rx="4.6" ry="2.8" transform="translate(573.0 567.0) rotate(-18)"/>
<ellipse fill="#2f2f2f" rx="4.0" ry="1.9" transform="translate(575.0 571.7) rotate(-13)"/>
<polyline stroke="#393939" stroke-width="4.0" points="562.0,560.0 570.0,558.0 575.0,557.0"/>
<ellipse fill="#3e3e3e" rx="4.0" ry="1.9" transform="translate(557.0 553.5) rotate(-9)"/>
<ellipse fill="#444444" rx="3.8" ry="1.6" transform="translate(511.0 548.5) rotate(-9)"/>
<ellipse fill="#444444" rx="3.3" ry="1.6" transform="translate(495.5 549.5) rotate(-11)"/>
<polyline stroke="#d4d4d4" stroke-width="5.1" points="530.0,577.0 535.0,573.0 539.0,571.0"/>
<ellipse fill="#343434" rx="4.7" ry="2.2" transform="translate(535.0 581.0) rotate(-34)"/>
<ellipse fill="#cbcbcb" rx="3.0" ry="1.9" transform="translate(522.0 587.5) rotate(-14)"/>
<polyline stroke="#343434" stroke-width="4.6" points="520.0,598.0 528.0,594.0 535.0,591.0"/>
<ellipse fill="#2f2f2f" rx="3.8" ry="2.5" transform="translate(505.5 604.5) rotate(-11)"/>
<ellipse fill="#c6c6c6" rx="3.8" ry="1.9" transform="translate(504.0 590.0) rotate(-45)"/>
<ellipse fill="#d0d0d0" rx="4.4" ry="2.5" transform="translate(582.5 581.0) rotate(-39)"/>
<ellipse fill="#d4d4d4" rx="2.8" ry="2.5" transform="translate(560.5 585.8) rotate(-8)"/>
<polyline stroke="#2b2b2b" stroke-width="4.0" points="556.0,591.6 564.0,590.0 572.0,588.0"/>
<ellipse fill="#d0d0d0" rx="4.0" ry="2.5" transform="translate(573.5 592.8) rotate(-26)"/>
<ellipse fill="#dddddd" rx="2.8" ry="2.5" transform="translate(550.5 596.7) rotate(-11)"/>
<ellipse fill="#d0d0d0" rx="3.2" ry="2.2" transform="translate(559.5 599.0) rotate(76)"/>
<polyline stroke="#d9d9d9" stroke-width="5.1" points="554.0,604.0 550.0,609.0 547.0,612.0"/>
<ellipse fill="#343434" rx="2.7" ry="2.2" transform="translate(560.5 610.5) rotate(72)"/>
<ellipse fill="#cbcbcb" rx="2.7" ry="1.9" transform="translate(581.5 605.0) rotate(-34)"/>
<ellipse fill="#343434" rx="2.1" ry="1.9" transform="translate(549.5 616.0) rotate(63)"/>
<ellipse fill="#d0d0d0" rx="2.2" ry="1.9" transform="translate(554.2 616.8) rotate(81)"/>
<ellipse fill="#d4d4d4" rx="4.8" ry="2.5" transform="translate(573.5 617.5) rotate(-45)"/>
<ellipse fill="#393939" rx="2.6" ry="1.6" transform="translate(571.5 611.0) rotate(-34)"/>
<polyline stroke="#ebebeb" stroke-width="6.3" points="544.0,626.0 550.0,625.6 556.0,626.0 560.0,624.0"/>
<ellipse fill="#2b2b2b" rx="2.7" ry="2.5" transform="translate(549.0 632.0) rotate(135)"/>
<ellipse fill="#e6e6e6" rx="3.3" ry="2.2" transform="translate(554.0 633.0) rotate(117)"/>
<ellipse fill="#d0d0d0" rx="2.1" ry="1.9" transform="translate(536.0 631.5) rotate(27)"/>
<ellipse fill="#2f2f2f" rx="1.6" ry="1.9" transform="translate(538.5 636.5) rotate(45)"/>
<ellipse fill="#d0d0d0" rx="2.4" ry="1.9" transform="translate(562.0 630.0) rotate(-45)"/>
<polyline stroke="#191919" stroke-width="7.4" points="576.0,633.0 573.0,639.0 568.0,643.0 565.0,644.0"/>
<ellipse fill="#cbcbcb" rx="2.4" ry="1.9" transform="translate(583.0 639.0) rotate(135)"/>
<polyline stroke="#dddddd" stroke-width="5.1" points="558.0,648.0 557.0,653.0 555.0,656.0"/>
<ellipse fill="#cbcbcb" rx="1.9" ry="1.6" transform="translate(547.5 646.0) rotate(63)"/>
<ellipse fill="#343434" rx="2.5" ry="1.9" transform="translate(551.5 650.5) rotate(72)"/>
<ellipse fill="#343434" rx="2.2" ry="2.2" transform="translate(560.0 660.5) rotate(153)"/>
<ellipse fill="#2f2f2f" rx="3.7" ry="2.5" transform="translate(579.5 647.0) rotate(127)"/>
<ellipse fill="#d4d4d4" rx="4.3" ry="2.8" transform="translate(587.5 654.5) rotate(121)"/>
<ellipse fill="#c6c6c6" rx="1.9" ry="1.6" transform="translate(588.5 645.0) rotate(63)"/>
<ellipse fill="#2f2f2f" rx="2.5" ry="1.9" transform="translate(571.5 662.5) rotate(72)"/>
<ellipse fill="#d9d9d9" rx="3.3" ry="2.5" transform="translate(575.5 667.0) rotate(104)"/>
<polyline stroke="#2b2b2b" stroke-width="5.1" points="585.0,662.0 582.0,668.0 578.0,673.0"/>
<ellipse fill="#cbcbcb" rx="2.5" ry="1.9" transform="translate(590.5 664.5) rotate(108)"/>
<ellipse fill="#d9d9d9" rx="3.9" ry="2.5" transform="translate(584.5 688.0) rotate(-22)"/>
<ellipse fill="#262626" rx="4.4" ry="2.5" transform="translate(590.5 691.0) rotate(-39)"/>
<ellipse fill="#d0d0d0" rx="3.3" ry="1.6" transform="translate(597.5 685.5) rotate(79)"/>
<ellipse fill="#d4d4d4" rx="2.7" ry="2.5" transform="translate(615.0 675.0) rotate(45)"/>
<ellipse fill="#343434" rx="2.7" ry="2.2" transform="translate(619.5 674.5) rotate(108)"/>
<ellipse fill="#393939" rx="2.4" ry="1.9" transform="translate(611.0 671.0) rotate(45)"/>
<ellipse fill="#d0d0d0" rx="2.9" ry="1.9" transform="translate(649.2 666.0) rotate(84)"/>
<ellipse fill="#3e3e3e" rx="2.3" ry="1.6" transform="translate(661.3 658.5) rotate(79)"/>
<ellipse fill="#393939" rx="2.9" ry="1.9" transform="translate(676.2 654.0) rotate(84)"/>
<ellipse fill="#343434" rx="4.1" ry="2.2" transform="translate(677.5 675.0) rotate(81)"/>
<ellipse fill="#cbcbcb" rx="2.3" ry="1.6" transform="translate(683.3 672.5) rotate(79)"/>
<ellipse fill="#d0d0d0" rx="3.0" ry="1.9" transform="translate(685.3 679.0) rotate(81)"/>
<ellipse fill="#393939" rx="2.9" ry="1.9" transform="translate(628.2 682.0) rotate(84)"/>
<ellipse fill="#393939" rx="2.5" ry="1.9" transform="translate(647.3 679.5) rotate(79)"/>
<ellipse fill="#cbcbcb" rx="4.2" ry="2.5" transform="translate(637.5 691.5) rotate(59)"/>
<ellipse fill="#393939" rx="2.9" ry="1.9" transform="translate(646.2 696.0) rotate(84)"/>
<ellipse fill="#cbcbcb" rx="2.5" ry="1.9" transform="translate(622.5 705.5) rotate(72)"/>
<ellipse fill="#3e3e3e" rx="2.0" ry="1.9" transform="translate(612.2 704.0) rotate(79)"/>
<ellipse fill="#d4d4d4" rx="4.3" ry="2.5" transform="translate(627.7 719.0) rotate(77)"/>
<ellipse fill="#2f2f2f" rx="3.8" ry="2.5" transform="translate(635.5 720.5) rotate(79)"/>
<ellipse fill="#262626" rx="4.9" ry="2.8" transform="translate(673.5 717.5) rotate(82)"/>
<ellipse fill="#ebebeb" rx="5.6" ry="3.1" transform="translate(678.2 721.0) rotate(87)"/>
<ellipse fill="#d0d0d0" rx="2.7" ry="1.9" transform="translate(684.0 709.5) rotate(56)"/>
<ellipse fill="#393939" rx="3.0" ry="1.9" transform="translate(681.5 695.0) rotate(76)"/>
<ellipse fill="#bbbbbb" rx="2.6" ry="1.6" transform="translate(541.5 715.0) rotate(34)"/>
<ellipse fill="#444444" rx="1.9" ry="1.6" transform="translate(551.0 717.5) rotate(27)"/>
<ellipse fill="#c6c6c6" rx="3.0" ry="1.9" transform="translate(539.5 731.0) rotate(76)"/>
<ellipse fill="#444444" rx="3.2" ry="1.9" transform="translate(506.0 734.0) rotate(27)"/>
<ellipse fill="#191919" rx="4.8" ry="3.3" transform="translate(555.0 384.1) rotate(45)"/>
<ellipse fill="#ebebeb" rx="4.4" ry="4.0" transform="translate(561.8 389.7) rotate(45)"/>
<ellipse fill="#1d1d1d" rx="4.0" ry="3.1" transform="translate(564.5 385.9) rotate(63)"/>
<ellipse fill="#1d1d1d" rx="6.0" ry="3.3" transform="translate(551.5 392.1) rotate(40)"/>
<ellipse fill="#d0d0d0" rx="3.5" ry="2.2" transform="translate(551.8 388.0) rotate(45)"/>
<ellipse fill="#dddddd" rx="3.6" ry="3.1" transform="translate(558.3 403.0) rotate(34)"/>
<ellipse fill="#262626" rx="3.4" ry="2.7" transform="translate(561.2 400.1) rotate(34)"/>
<ellipse fill="#222222" rx="4.2" ry="4.4" transform="translate(549.4 402.4) rotate(34)"/>
<polyline stroke="#cbcbcb" stroke-width="2.8" points="534.4,408.3 540.3,408.3 546.2,408.9"/>
<polyline stroke="#0c0c0c" stroke-width="8.0" points="546.8,414.8 549.1,418.3 551.5,421.3"/>
<ellipse fill="#d4d4d4" rx="3.0" ry="2.4" transform="translate(544.1 427.5) rotate(18)"/>
<ellipse fill="#d0d0d0" rx="3.5" ry="2.0" transform="translate(549.7 426.0) rotate(27)"/>
<ellipse fill="#2f2f2f" rx="3.0" ry="2.4" transform="translate(542.9 431.6) rotate(18)"/>
<ellipse fill="#222222" rx="5.2" ry="3.3" transform="translate(550.9 431.3) rotate(72)"/>
<ellipse fill="#dddddd" rx="4.0" ry="2.4" transform="translate(549.1 436.9) rotate(37)"/>
<polyline stroke="#191919" stroke-width="7.6" points="546.8,440.2 549.7,443.1 553.9,446.7"/>
<ellipse fill="#ebebeb" rx="4.8" ry="2.9" transform="translate(549.7 448.7) rotate(9)"/>
<polyline stroke="#1d1d1d" stroke-width="6.8" points="546.8,453.2 550.9,456.1 555.0,459.1 558.0,462.0"/>
<ellipse fill="#e2e2e2" rx="4.7" ry="3.3" transform="translate(555.3 466.1) rotate(22)"/>
<polyline stroke="#1d1d1d" stroke-width="6.0" points="550.3,474.4 554.5,475.0 557.4,476.2"/>
<ellipse fill="#cbcbcb" rx="2.0" ry="1.5" transform="translate(553.3 469.4) rotate(27)"/>
<polyline stroke="#2b2b2b" stroke-width="3.6" points="527.3,473.8 533.2,476.2 537.9,477.3"/>
<ellipse fill="#cbcbcb" rx="3.7" ry="2.4" transform="translate(540.3 473.8) rotate(27)"/>
<polyline stroke="#dddddd" stroke-width="4.4" points="491.9,457.9 496.6,459.3 502.5,460.2 509.6,460.8"/>
<ellipse fill="#d0d0d0" rx="3.7" ry="1.8" transform="translate(492.2 451.1) rotate(11)"/>
<ellipse fill="#d0d0d0" rx="3.6" ry="1.5" transform="translate(504.6 450.9) rotate(5)"/>
<polyline stroke="#cbcbcb" stroke-width="3.2" points="516.7,449.6 521.4,450.8 526.1,452.6 529.7,452.6"/>
<ellipse fill="#343434" rx="6.7" ry="2.0" transform="translate(530.3 448.4) rotate(11)"/>
<ellipse fill="#cbcbcb" rx="3.7" ry="1.8" transform="translate(528.8 437.8) rotate(0)"/>
<ellipse fill="#393939" rx="4.4" ry="2.0" transform="translate(523.2 441.1) rotate(9)"/>
<ellipse fill="#2f2f2f" rx="3.6" ry="1.5" transform="translate(474.5 469.4) rotate(11)"/>
<ellipse fill="#3e3e3e" rx="3.5" ry="2.0" transform="translate(527.9 414.8) rotate(27)"/>
<ellipse fill="#393939" rx="5.2" ry="2.4" transform="translate(530.9 425.4) rotate(56)"/>
<ellipse fill="#d0d0d0" rx="4.0" ry="1.5" transform="translate(485.7 402.7) rotate(31)"/>
<polyline stroke="#d9d9d9" stroke-width="2.8" points="491.9,413.6 495.5,415.4 497.8,418.9 500.2,422.5 506.1,423.7 513.2,424.6"/>
<ellipse fill="#343434" rx="5.7" ry="1.8" transform="translate(489.6 382.1) rotate(21)"/>
<ellipse fill="#393939" rx="3.0" ry="2.0" transform="translate(540.9 382.7) rotate(56)"/>
</g>
</g>
<line x1="808.2" y1="202.7" x2="735.0" y2="408.1" stroke="#fff" stroke-width="0.9"/>
<polygon fill="#fff" points="609.0,464.0 615.0,465.0 617.2,468.0 617.6,473.0 616.8,477.2 614.2,479.2 610.0,480.6 606.0,480.0 603.6,479.0 602.0,477.0 610.0,464.0"/>
<polygon fill="#fff" points="687.6,525.0 690.0,523.2 692.8,524.0 694.4,527.2 697.2,531.2 701.4,533.6 707.2,536.6 711.2,539.6 715.4,544.8 718.4,550.0 720.8,555.6 721.2,558.8 718.8,561.2 710.0,563.2 698.0,564.0 686.0,562.4 678.0,560.4 675.6,560.8 674.0,548.0 678.0,543.6 681.0,541.0 683.6,538.0 685.6,533.0 686.4,528.0"/>
<polygon fill="#fff" points="608.4,518.4 610.0,515.2 613.6,512.4 617.6,515.6 616.8,519.6 613.6,521.6 610.0,521.2"/>
<polygon fill="#fff" points="620.4,528.0 625.0,529.6 629.0,535.6 629.2,539.6 625.2,541.2 622.0,537.6 620.4,532.4"/>
<polygon fill="#fff" points="628.0,550.4 641.6,549.6 642.6,556.0 637.6,556.4 631.6,554.4"/>
<polygon fill="#fff" points="653.6,459.6 658.0,458.4 660.4,456.4 661.2,458.4 658.0,461.6 654.4,462.0"/>
<polygon fill="none" stroke="#fff" stroke-width="3.4" stroke-linejoin="round" points="431.4,270.0 431.4,277.6 434.0,282.0 436.0,288.0 437.4,294.0 439.0,300.0 441.0,305.0 442.0,310.0 441.4,315.0 439.0,319.0 436.0,323.0 433.0,327.0 430.0,329.0 427.0,330.0 425.4,331.6 427.0,333.6 430.0,332.4 433.0,331.0 436.0,331.6 439.0,333.6 442.0,335.0 445.0,334.4 447.0,337.0 449.0,341.0 450.6,346.0 451.0,351.0 449.4,356.0 447.0,360.0 444.0,363.0 442.6,367.0 445.0,369.0 448.0,368.0 451.0,369.6 454.0,373.0 455.0,377.0 453.0,380.0 450.0,381.6 449.0,384.0 452.0,386.4 456.0,387.0 458.0,385.0 457.4,382.4 460.0,381.6 462.0,384.0 461.4,387.0 463.0,390.0 466.0,392.0 468.0,394.4 470.6,397.0 472.0,400.0 471.4,403.0 473.0,406.0 476.0,407.6 479.4,407.0 482.0,405.0 484.0,403.6 486.0,405.6 487.4,409.0 489.4,412.0 492.0,415.0 495.0,418.0 497.4,421.6 500.0,424.0 503.4,425.6 507.0,426.0 510.6,427.0 514.0,428.0 517.4,427.6 520.6,426.0 523.4,423.6 525.4,421.0 526.6,423.0 526.0,427.0 525.0,431.0 523.0,434.4 520.0,437.6 517.4,442.4 513.4,444.8 509.0,446.8 505.0,448.4 502.0,448.4 499.0,448.0 495.0,447.0 491.0,445.6 488.0,445.0 485.0,443.6 481.0,443.0 477.0,441.0 474.0,439.6 471.0,441.0 467.4,441.6 465.0,439.0 463.0,436.0 460.0,434.0 457.0,432.0 453.0,429.6 449.0,427.6 445.0,425.0 441.0,423.6 438.0,423.0 439.0,421.0 436.0,420.0 433.0,419.6 429.0,419.0 425.0,418.0 421.0,417.0 417.0,416.4 414.0,415.0 411.0,412.0 408.0,409.0 404.0,406.0 400.0,403.6 396.0,401.6 392.0,400.0 387.0,398.0 382.0,396.0 377.0,394.0 372.0,392.4 367.0,391.0 355.0,391.0 355.0,270.0"/>
<polygon fill="none" stroke="#fff" stroke-width="3.4" stroke-linejoin="round" points="517.4,398.4 516.2,395.2 517.8,392.0 519.8,389.6 522.2,388.8 523.4,392.0 522.2,396.0 520.2,398.0 518.6,400.4"/>
<polygon fill="none" stroke="#fff" stroke-width="3.4" stroke-linejoin="round" points="805.5,160.0 805.5,166.2 806.0,170.0 806.5,174.0 807.0,178.0 806.8,182.0 806.0,185.0 804.0,185.8 803.5,187.0 804.5,189.0 804.8,192.0 805.0,194.5 806.5,196.0 807.5,198.5 808.5,200.5 810.5,201.8 813.0,201.2 816.0,200.8 819.0,201.8 822.0,202.5 825.0,202.8 828.0,204.0 830.5,205.5 833.0,206.0 834.5,207.5 836.0,208.5 839.0,208.2 842.0,209.0 845.0,209.2 847.5,210.0 850.0,211.2 853.0,210.5 856.0,209.8 859.0,209.0 862.0,208.2 865.0,207.0 868.0,205.8 871.0,204.8 874.0,204.0 877.0,202.5 879.5,201.2 881.5,200.0 883.0,196.0 881.5,190.0 840.0,165.0"/>
<polygon fill="none" stroke="#fff" stroke-width="3.4" stroke-linejoin="round" points="1030.0,650.0 1019.6,651.0 1014.0,650.0 1008.0,649.6 1003.0,647.6 999.0,644.4 996.0,641.0 993.0,641.0 990.0,642.4 987.0,645.0 984.4,648.0 982.4,652.0 981.6,657.0 982.4,662.0 981.6,666.0 979.0,669.0 977.0,673.0 975.0,677.0 973.6,681.0 973.0,686.0 973.6,691.0 973.0,696.0 971.6,701.0 970.0,705.0 968.4,709.0 967.0,713.0 965.0,718.0 962.4,722.0 959.0,725.6 955.0,728.4 951.0,731.0 947.0,733.0 943.0,734.4 939.6,734.0 936.0,732.4 932.0,731.6 928.0,730.4 925.0,731.0 924.4,735.0 924.6,740.0 924.4,745.0 924.0,748.4 922.0,746.0 920.0,742.0 918.4,738.0 918.0,734.4 916.4,734.0 915.0,737.0 916.0,741.0 914.0,739.6 912.0,737.0 910.0,735.0 907.0,735.6 905.0,737.0 902.4,736.0 900.0,734.0 897.0,733.0 893.0,732.4 889.0,733.0 885.0,734.0 881.0,736.0 878.0,738.0 875.6,741.0 874.4,744.4 873.0,747.0 871.0,745.6 868.0,744.4 864.0,744.0 862.0,746.0 861.0,750.0 860.0,754.0 858.0,757.0 855.0,759.6 853.0,762.0 854.0,767.0 855.6,772.0 857.0,777.0 858.0,782.0 858.4,788.0 858.0,794.0 857.0,800.0 857.0,806.0 858.0,811.0 859.6,817.0 862.0,826.0 1030.0,826.0"/>
<polygon fill="none" stroke="#fff" stroke-width="3.4" stroke-linejoin="round" points="842.0,728.0 843.0,724.0 846.0,721.0 850.0,720.0 854.0,721.6 858.0,724.4 861.0,727.6 863.0,730.0 862.0,732.0 859.0,732.4 856.0,733.0 853.6,735.0 851.6,737.6 849.6,739.6 847.6,738.0 846.0,735.0 844.4,732.0"/>
<polygon fill="none" stroke="#fff" stroke-width="3.4" stroke-linejoin="round" points="744.0,743.0 746.0,741.0 749.0,740.0 752.0,740.5 754.5,741.5 757.0,741.2 759.0,742.2 759.5,744.0 758.5,746.5 757.5,749.0 756.5,751.5 755.0,754.0 753.5,755.8 751.5,757.5 749.5,759.2 747.5,761.0 745.5,763.0 744.0,765.0 742.8,767.2 742.2,769.5 741.5,772.0 740.5,774.0 739.5,776.5 739.0,779.0 738.0,780.0 736.5,779.8 735.0,778.5 734.0,777.0 733.0,778.0 731.5,779.0 730.0,778.2 728.8,776.8 728.5,775.0 729.5,773.0 730.5,771.0 731.5,769.0 732.5,766.8 733.5,764.5 734.8,762.2 736.5,760.0 738.0,758.0 739.5,755.8 740.5,753.5 741.0,751.0 741.5,748.5 742.2,746.0 743.0,744.5"/>
<polygon fill="none" stroke="#fff" stroke-width="3.4" stroke-linejoin="round" points="721.5,778.0 723.0,776.8 725.0,776.5 726.2,778.0 725.8,780.5 725.5,783.0 726.2,785.0 728.0,786.2 730.0,787.5 732.0,789.0 733.0,790.0 732.2,791.5 730.5,792.8 729.5,794.5 729.0,796.5 728.8,799.0 729.0,801.5 729.5,804.0 730.5,806.2 732.0,809.0 733.5,811.5 735.0,814.0 736.5,816.2 738.0,818.0 739.5,819.5 741.2,820.8 739.8,821.6 737.4,820.4 735.2,818.4 733.1,815.9 731.1,813.4 729.6,810.8 728.4,808.2 727.8,806.2 727.4,805.0 726.5,805.2 725.5,806.0 724.5,806.5 723.8,805.0 723.2,803.0 722.5,801.5 721.0,801.0 719.0,800.5 716.5,800.8 714.0,801.2 711.5,802.0 709.5,802.5 709.2,801.0 709.8,799.0 710.5,797.0 711.0,795.0 712.0,793.8 714.0,793.2 715.5,792.5 716.5,791.0 717.2,789.0 717.8,787.0 718.5,784.8 719.5,782.5 720.5,780.0"/>
<polygon class="land" points="580.5,420.0 582.5,419.5 583.5,420.5 582.5,422.5 582.0,425.0 583.5,426.5 584.5,428.0 583.5,429.5 582.5,431.0 583.0,433.5 584.0,436.0 585.0,438.5 586.5,441.0 588.0,443.0 589.0,444.5 588.0,446.0 589.0,448.0 590.5,450.0 592.0,451.5 594.0,452.5 596.0,453.0 598.0,452.0 600.0,451.0 602.5,450.5 605.0,451.0 608.0,452.0 611.0,453.0 614.0,454.0 616.0,455.5 619.0,456.5 622.0,457.5 625.0,459.5 628.0,461.5 631.0,464.0 633.5,466.5 635.5,469.5 637.0,472.5 637.6,474.6 639.0,471.0 641.0,468.0 644.0,466.4 648.0,464.8 652.4,463.0 657.0,460.6 660.4,457.6 663.0,453.0 664.4,448.0 666.0,442.0 667.0,437.0 668.4,431.6 669.6,427.0 671.0,422.0 674.0,417.0 677.6,412.4 681.0,408.4 681.6,405.6 683.2,403.6 685.0,404.4 687.2,403.6 688.0,400.0 689.6,398.4 691.6,398.8 693.2,401.2 695.2,400.4 696.0,397.2 698.0,396.8 699.6,398.4 700.4,400.8 701.4,400.6 705.0,399.2 710.0,397.6 716.0,396.4 722.0,397.0 728.0,398.6 734.0,401.0 740.0,403.6 746.0,405.4 752.0,406.6 758.0,407.6 762.4,408.6 764.4,406.4 766.0,406.4 767.0,410.0 768.0,414.0 770.0,417.0 774.0,416.0 779.0,415.0 784.0,415.6 789.0,417.6 793.0,420.0 795.0,423.0 799.0,422.0 804.0,422.0 807.6,425.0 809.0,429.0 807.0,433.0 808.0,438.0 810.0,444.0 811.0,449.0 812.4,455.0 813.6,459.0 814.4,460.4 810.0,462.4 806.0,465.0 802.0,466.4 800.6,468.0 802.0,469.6 805.0,469.0 807.0,472.0 810.0,475.6 814.0,479.0 818.0,483.0 822.0,488.0 825.0,493.0 827.0,498.0 828.0,503.0 828.0,508.0 827.0,514.0 827.0,520.0 828.0,526.0 828.4,532.0 826.0,538.0 823.0,542.0 820.0,545.0 821.0,549.0 823.0,550.0 822.0,554.0 819.0,557.0 815.0,560.0 812.0,563.0 810.0,567.0 807.0,571.0 805.6,575.0 805.0,579.0 802.0,581.0 799.0,582.0 798.0,585.0 799.0,588.0 797.0,590.0 794.0,592.0 791.0,594.0 788.0,596.0 784.0,598.0 780.0,600.0 777.0,601.6 775.0,602.4 773.0,601.0 771.0,601.6 769.0,603.0 766.0,602.4 764.0,601.6 762.0,603.0 759.0,604.4 756.0,605.6 753.0,606.4 750.0,606.4 742.0,605.6 736.0,603.6 726.0,601.0 719.2,598.0 717.6,596.0 719.0,592.0 721.0,589.0 723.0,585.0 724.4,580.0 724.4,574.0 723.0,569.0 720.0,564.0 718.0,560.0 720.0,557.0 721.0,558.4 720.4,555.6 718.0,550.0 715.0,545.0 711.0,540.0 707.0,537.0 701.4,534.0 697.0,531.6 694.0,527.0 692.4,524.4 690.0,523.6 687.6,525.0 686.4,528.0 685.6,533.0 683.6,538.0 681.0,541.0 678.0,543.6 674.4,545.0 674.0,548.0 675.0,553.0 676.0,558.0 677.2,562.0 676.4,565.0 673.6,566.0 671.6,564.0 670.4,560.4 668.4,559.0 665.0,559.6 662.4,562.0 660.0,564.0 656.0,563.0 650.0,561.6 645.0,560.0 642.4,558.0 642.4,554.0 641.6,549.6 639.0,549.0 634.0,549.6 630.0,550.4 627.0,550.0 625.6,547.0 623.6,544.0 625.0,542.0 628.0,541.0 629.6,539.0 629.0,535.0 627.0,531.6 624.0,529.0 621.6,527.0 621.0,523.0 622.0,519.0 621.0,516.6 618.0,519.0 615.0,520.0 613.6,518.0 615.0,514.4 614.4,512.0 612.4,513.0 610.0,515.6 608.0,519.0 606.0,520.0 605.0,516.0 607.0,513.0 609.0,509.0 609.6,504.0 610.0,498.0 610.0,493.0 610.5,490.0 611.5,487.5 613.0,485.5 611.5,484.5 610.0,482.5 611.5,481.0 614.0,479.5 616.5,477.5 617.2,473.0 617.0,468.0 615.0,465.0 609.0,464.0 604.0,463.6 601.5,463.2 600.0,462.5 599.0,461.0 598.0,459.0 596.0,457.5 593.5,456.5 591.5,456.0 590.0,456.5 589.5,458.5 588.5,459.8 586.5,458.5 585.0,456.5 585.5,454.8 587.0,454.0 586.5,452.5 585.0,450.5 583.5,448.0 582.0,445.5 581.0,443.0 580.0,441.5 579.0,443.0 577.5,442.5 576.5,439.5 577.0,437.5 578.5,436.5 579.0,434.0 578.5,431.0 578.5,428.0 579.0,425.0 579.5,422.5"/>
<polygon class="land" points="594.0,464.0 596.0,463.5 600.0,463.5 604.0,464.0 608.0,464.8 611.0,466.0 612.8,468.0 613.0,471.0 612.0,473.5 610.0,475.5 607.5,477.0 605.0,478.0 603.0,478.2 602.5,476.5 603.2,474.0 604.0,471.0 604.2,469.0 603.0,467.5 600.0,466.8 597.0,466.5 594.8,466.0"/>
<polygon class="land" points="596.2,473.5 597.5,472.2 599.5,472.5 600.6,474.2 600.2,476.2 598.8,477.2 597.0,476.8 596.0,475.2"/>
<polygon class="land" points="571.2,422.5 572.2,421.2 573.0,422.2 573.2,426.0 573.0,429.5 572.0,430.5 571.2,429.0 571.0,425.5"/>
<polygon class="land" points="682.4,559.6 683.2,554.4 685.2,552.4 686.4,554.4 685.6,559.0 684.0,560.4"/>
<polygon class="land" points="714.0,567.2 716.0,566.0 717.6,567.6 716.8,569.2 714.8,569.2"/>
<polygon class="land" points="662.0,564.0 663.6,562.4 665.6,563.2 665.6,565.2 663.2,565.6"/>
<polygon class="land" points="431.4,270.0 431.4,277.6 434.0,282.0 436.0,288.0 437.4,294.0 439.0,300.0 441.0,305.0 442.0,310.0 441.4,315.0 439.0,319.0 436.0,323.0 433.0,327.0 430.0,329.0 427.0,330.0 425.4,331.6 427.0,333.6 430.0,332.4 433.0,331.0 436.0,331.6 439.0,333.6 442.0,335.0 445.0,334.4 447.0,337.0 449.0,341.0 450.6,346.0 451.0,351.0 449.4,356.0 447.0,360.0 444.0,363.0 442.6,367.0 445.0,369.0 448.0,368.0 451.0,369.6 454.0,373.0 455.0,377.0 453.0,380.0 450.0,381.6 449.0,384.0 452.0,386.4 456.0,387.0 458.0,385.0 457.4,382.4 460.0,381.6 462.0,384.0 461.4,387.0 463.0,390.0 466.0,392.0 468.0,394.4 470.6,397.0 472.0,400.0 471.4,403.0 473.0,406.0 476.0,407.6 479.4,407.0 482.0,405.0 484.0,403.6 486.0,405.6 487.4,409.0 489.4,412.0 492.0,415.0 495.0,418.0 497.4,421.6 500.0,424.0 503.4,425.6 507.0,426.0 510.6,427.0 514.0,428.0 517.4,427.6 520.6,426.0 523.4,423.6 525.4,421.0 526.6,423.0 526.0,427.0 525.0,431.0 523.0,434.4 520.0,437.6 517.4,442.4 513.4,444.8 509.0,446.8 505.0,448.4 502.0,448.4 499.0,448.0 495.0,447.0 491.0,445.6 488.0,445.0 485.0,443.6 481.0,443.0 477.0,441.0 474.0,439.6 471.0,441.0 467.4,441.6 465.0,439.0 463.0,436.0 460.0,434.0 457.0,432.0 453.0,429.6 449.0,427.6 445.0,425.0 441.0,423.6 438.0,423.0 439.0,421.0 436.0,420.0 433.0,419.6 429.0,419.0 425.0,418.0 421.0,417.0 417.0,416.4 414.0,415.0 411.0,412.0 408.0,409.0 404.0,406.0 400.0,403.6 396.0,401.6 392.0,400.0 387.0,398.0 382.0,396.0 377.0,394.0 372.0,392.4 367.0,391.0 355.0,391.0 355.0,270.0"/>
<polygon class="land" points="517.4,398.4 516.2,395.2 517.8,392.0 519.8,389.6 522.2,388.8 523.4,392.0 522.2,396.0 520.2,398.0 518.6,400.4"/>
<polygon class="land" points="805.5,160.0 805.5,166.2 806.0,170.0 806.5,174.0 807.0,178.0 806.8,182.0 806.0,185.0 804.0,185.8 803.5,187.0 804.5,189.0 804.8,192.0 805.0,194.5 806.5,196.0 807.5,198.5 808.5,200.5 810.5,201.8 813.0,201.2 816.0,200.8 819.0,201.8 822.0,202.5 825.0,202.8 828.0,204.0 830.5,205.5 833.0,206.0 834.5,207.5 836.0,208.5 839.0,208.2 842.0,209.0 845.0,209.2 847.5,210.0 850.0,211.2 853.0,210.5 856.0,209.8 859.0,209.0 862.0,208.2 865.0,207.0 868.0,205.8 871.0,204.8 874.0,204.0 877.0,202.5 879.5,201.2 881.5,200.0 883.0,196.0 881.5,190.0 840.0,165.0"/>
<polygon class="land" points="1030.0,650.0 1019.6,651.0 1014.0,650.0 1008.0,649.6 1003.0,647.6 999.0,644.4 996.0,641.0 993.0,641.0 990.0,642.4 987.0,645.0 984.4,648.0 982.4,652.0 981.6,657.0 982.4,662.0 981.6,666.0 979.0,669.0 977.0,673.0 975.0,677.0 973.6,681.0 973.0,686.0 973.6,691.0 973.0,696.0 971.6,701.0 970.0,705.0 968.4,709.0 967.0,713.0 965.0,718.0 962.4,722.0 959.0,725.6 955.0,728.4 951.0,731.0 947.0,733.0 943.0,734.4 939.6,734.0 936.0,732.4 932.0,731.6 928.0,730.4 925.0,731.0 924.4,735.0 924.6,740.0 924.4,745.0 924.0,748.4 922.0,746.0 920.0,742.0 918.4,738.0 918.0,734.4 916.4,734.0 915.0,737.0 916.0,741.0 914.0,739.6 912.0,737.0 910.0,735.0 907.0,735.6 905.0,737.0 902.4,736.0 900.0,734.0 897.0,733.0 893.0,732.4 889.0,733.0 885.0,734.0 881.0,736.0 878.0,738.0 875.6,741.0 874.4,744.4 873.0,747.0 871.0,745.6 868.0,744.4 864.0,744.0 862.0,746.0 861.0,750.0 860.0,754.0 858.0,757.0 855.0,759.6 853.0,762.0 854.0,767.0 855.6,772.0 857.0,777.0 858.0,782.0 858.4,788.0 858.0,794.0 857.0,800.0 857.0,806.0 858.0,811.0 859.6,817.0 862.0,826.0 1030.0,826.0"/>
<polygon class="land" points="842.0,728.0 843.0,724.0 846.0,721.0 850.0,720.0 854.0,721.6 858.0,724.4 861.0,727.6 863.0,730.0 862.0,732.0 859.0,732.4 856.0,733.0 853.6,735.0 851.6,737.6 849.6,739.6 847.6,738.0 846.0,735.0 844.4,732.0"/>
<polygon class="land" points="909.6,733.0 912.0,729.6 915.0,728.4 916.0,730.0 914.0,732.4 911.0,734.0"/>
<polygon class="land" points="744.0,743.0 746.0,741.0 749.0,740.0 752.0,740.5 754.5,741.5 757.0,741.2 759.0,742.2 759.5,744.0 758.5,746.5 757.5,749.0 756.5,751.5 755.0,754.0 753.5,755.8 751.5,757.5 749.5,759.2 747.5,761.0 745.5,763.0 744.0,765.0 742.8,767.2 742.2,769.5 741.5,772.0 740.5,774.0 739.5,776.5 739.0,779.0 738.0,780.0 736.5,779.8 735.0,778.5 734.0,777.0 733.0,778.0 731.5,779.0 730.0,778.2 728.8,776.8 728.5,775.0 729.5,773.0 730.5,771.0 731.5,769.0 732.5,766.8 733.5,764.5 734.8,762.2 736.5,760.0 738.0,758.0 739.5,755.8 740.5,753.5 741.0,751.0 741.5,748.5 742.2,746.0 743.0,744.5"/>
<polygon class="land" points="751.0,737.8 752.4,735.5 753.4,739.0"/>
<polygon class="land" points="721.5,778.0 723.0,776.8 725.0,776.5 726.2,778.0 725.8,780.5 725.5,783.0 726.2,785.0 728.0,786.2 730.0,787.5 732.0,789.0 733.0,790.0 732.2,791.5 730.5,792.8 729.5,794.5 729.0,796.5 728.8,799.0 729.0,801.5 729.5,804.0 730.5,806.2 732.0,809.0 733.5,811.5 735.0,814.0 736.5,816.2 738.0,818.0 739.5,819.5 741.2,820.8 739.8,821.6 737.4,820.4 735.2,818.4 733.1,815.9 731.1,813.4 729.6,810.8 728.4,808.2 727.8,806.2 727.4,805.0 726.5,805.2 725.5,806.0 724.5,806.5 723.8,805.0 723.2,803.0 722.5,801.5 721.0,801.0 719.0,800.5 716.5,800.8 714.0,801.2 711.5,802.0 709.5,802.5 709.2,801.0 709.8,799.0 710.5,797.0 711.0,795.0 712.0,793.8 714.0,793.2 715.5,792.5 716.5,791.0 717.2,789.0 717.8,787.0 718.5,784.8 719.5,782.5 720.5,780.0"/>
<polygon class="land" points="684.0,761.8 686.2,760.2 687.2,762.6"/>
<polygon class="land" points="581.0,346.5 584.0,344.6 588.0,344.2 589.5,345.2 586.0,346.8 582.5,347.8"/>
<polygon class="land" points="911.5,421.0 914.0,420.5 916.5,422.5 915.5,426.0 912.5,426.5 911.0,424.0"/>
<polygon class="land" points="586.5,389.5 589.5,388.8 590.0,390.2 587.0,391.0"/>
<circle class="g" cx="701.5" cy="502.3" r="32.00"/>
<circle class="g" cx="701.5" cy="502.3" r="96.70"/>
<circle class="g" cx="701.5" cy="502.3" r="163.60"/>
<circle class="g" cx="701.5" cy="502.3" r="234.37"/>
<circle class="g" cx="701.5" cy="502.3" r="311.09"/>
<line class="g" x1="701.5" y1="502.3" x2="701.50" y2="149.80"/>
<line class="g" x1="701.5" y1="502.3" x2="877.75" y2="197.03"/>
<line class="g" x1="701.5" y1="502.3" x2="1006.77" y2="326.05"/>
<line class="g" x1="701.5" y1="502.3" x2="1054.00" y2="502.30"/>
<line class="g" x1="701.5" y1="502.3" x2="1006.77" y2="678.55"/>
<line class="g" x1="701.5" y1="502.3" x2="877.75" y2="807.57"/>
<line class="g" x1="701.5" y1="502.3" x2="701.50" y2="854.80"/>
<line class="g" x1="701.5" y1="502.3" x2="525.25" y2="807.57"/>
<line class="g" x1="701.5" y1="502.3" x2="396.23" y2="678.55"/>
<line class="g" x1="701.5" y1="502.3" x2="349.00" y2="502.30"/>
<line class="g" x1="701.5" y1="502.3" x2="396.23" y2="326.05"/>
<line class="g" x1="701.5" y1="502.3" x2="525.25" y2="197.03"/>
<line x1="701.5" y1="502.3" x2="701.50" y2="494.80" stroke="#000" stroke-width="0.9"/>
<line x1="701.5" y1="502.3" x2="705.25" y2="495.80" stroke="#000" stroke-width="0.9"/>
<line x1="701.5" y1="502.3" x2="708.00" y2="498.55" stroke="#000" stroke-width="0.9"/>
<line x1="701.5" y1="502.3" x2="709.00" y2="502.30" stroke="#000" stroke-width="0.9"/>
<line x1="701.5" y1="502.3" x2="708.00" y2="506.05" stroke="#000" stroke-width="0.9"/>
<line x1="701.5" y1="502.3" x2="705.25" y2="508.80" stroke="#000" stroke-width="0.9"/>
<line x1="701.5" y1="502.3" x2="701.50" y2="509.80" stroke="#000" stroke-width="0.9"/>
<line x1="701.5" y1="502.3" x2="697.75" y2="508.80" stroke="#000" stroke-width="0.9"/>
<line x1="701.5" y1="502.3" x2="695.00" y2="506.05" stroke="#000" stroke-width="0.9"/>
<line x1="701.5" y1="502.3" x2="694.00" y2="502.30" stroke="#000" stroke-width="0.9"/>
<line x1="701.5" y1="502.3" x2="695.00" y2="498.55" stroke="#000" stroke-width="0.9"/>
<line x1="701.5" y1="502.3" x2="697.75" y2="495.80" stroke="#000" stroke-width="0.9"/>
<circle cx="701.5" cy="502.3" r="1.6" fill="#000"/>
</g>
<circle cx="701.5" cy="502.3" r="352.5" fill="none" stroke="#000" stroke-width="1.15"/>
<line class="t" x1="701.50" y1="149.80" x2="701.50" y2="142.80"/>
<line class="t" x1="877.75" y1="197.03" x2="881.25" y2="190.96"/>
<line class="t" x1="1006.77" y1="326.05" x2="1012.84" y2="322.55"/>
<line class="t" x1="1054.00" y1="502.30" x2="1061.00" y2="502.30"/>
<line class="t" x1="1006.77" y1="678.55" x2="1012.84" y2="682.05"/>
<line class="t" x1="877.75" y1="807.57" x2="881.25" y2="813.64"/>
<line class="t" x1="701.50" y1="854.80" x2="701.50" y2="861.80"/>
<line class="t" x1="525.25" y1="807.57" x2="521.75" y2="813.64"/>
<line class="t" x1="396.23" y1="678.55" x2="390.16" y2="682.05"/>
<line class="t" x1="349.00" y1="502.30" x2="342.00" y2="502.30"/>
<line class="t" x1="396.23" y1="326.05" x2="390.16" y2="322.55"/>
<line class="t" x1="525.25" y1="197.03" x2="521.75" y2="190.96"/>
<text class="l" text-anchor="middle" transform="translate(703.10 138.70) rotate(0)">0<tspan class="s" dy="-7.6">o</tspan></text>
<text class="l" text-anchor="middle" transform="translate(884.69 188.21) rotate(30)">30<tspan class="s" dy="-7.6">o</tspan><tspan dy="7.6">E</tspan></text>
<text class="l" text-anchor="middle" transform="translate(1017.19 321.89) rotate(60)">60<tspan class="s" dy="-7.6">o</tspan><tspan dy="7.6">E</tspan></text>
<text class="l" text-anchor="middle" transform="translate(1065.10 503.90) rotate(90)">90<tspan class="s" dy="-7.6">o</tspan><tspan dy="7.6">E</tspan></text>
<text class="l" text-anchor="middle" transform="translate(1032.60 691.61) rotate(-60)">120<tspan class="s" dy="-7.6">o</tspan><tspan dy="7.6">E</tspan></text>
<text class="l" text-anchor="middle" transform="translate(893.59 831.80) rotate(-30)">150<tspan class="s" dy="-7.6">o</tspan><tspan dy="7.6">E</tspan></text>
<text class="l" text-anchor="middle" transform="translate(703.10 883.70) rotate(0)">180<tspan class="s" dy="-7.6">o</tspan><tspan dy="7.6">W</tspan></text>
<text class="l" text-anchor="middle" transform="translate(512.19 833.40) rotate(30)">150<tspan class="s" dy="-7.6">o</tspan><tspan dy="7.6">W</tspan></text>
<text class="l" text-anchor="middle" transform="translate(372.00 694.39) rotate(60)">120<tspan class="s" dy="-7.6">o</tspan><tspan dy="7.6">W</tspan></text>
<text class="l" text-anchor="middle" transform="translate(337.90 500.70) rotate(-90)">90<tspan class="s" dy="-7.6">o</tspan><tspan dy="7.6">W</tspan></text>
<text class="l" text-anchor="middle" transform="translate(387.41 319.11) rotate(-60)">60<tspan class="s" dy="-7.6">o</tspan><tspan dy="7.6">W</tspan></text>
<text class="l" text-anchor="middle" transform="translate(521.09 186.61) rotate(-30)">30<tspan class="s" dy="-7.6">o</tspan><tspan dy="7.6">W</tspan></text>
<line class="t" x1="701.5" y1="502.3" x2="701.5" y2="534.30"/>
<line class="t" x1="694.0" y1="534.30" x2="707.0" y2="534.30"/>
<line class="t" x1="690.0" y1="599.00" x2="703.6" y2="599.00"/>
<line class="t" x1="687.4" y1="665.90" x2="701.0" y2="665.90"/>
<line class="t" x1="683.5" y1="736.67" x2="698.5" y2="736.67"/>
<line class="t" x1="679.0" y1="813.39" x2="693.0" y2="813.39"/>
<text class="l" x="716" y="545.8">84<tspan class="s" dy="-7.6">o</tspan><tspan dy="7.6">S</tspan></text>
<text class="l" x="714" y="610.6">72<tspan class="s" dy="-7.6">o</tspan><tspan dy="7.6">S</tspan></text>
<text class="l" x="709.4" y="676.2">60<tspan class="s" dy="-7.6">o</tspan><tspan dy="7.6">S</tspan></text>
<text class="l" x="705.5" y="747.2">48<tspan class="s" dy="-7.6">o</tspan><tspan dy="7.6">S</tspan></text>
<text class="l" x="702.2" y="825.2">36<tspan class="s" dy="-7.6">o</tspan><tspan dy="7.6">S</tspan></text>
<rect x="376" y="911.5" width="658.5" height="19" fill="url(#cb)" stroke="#262626" stroke-width="1"/>
<text class="c" x="375.9" y="956.2" text-anchor="middle">-0.06</text>
<line x1="485.7" y1="923.8" x2="485.7" y2="930.5" stroke="#262626" stroke-width="1"/>
<text class="c" x="485.7" y="956.2" text-anchor="middle">-0.04</text>
<line x1="595.5" y1="923.8" x2="595.5" y2="930.5" stroke="#262626" stroke-width="1"/>
<text class="c" x="595.5" y="956.2" text-anchor="middle">-0.02</text>
<line x1="705.3" y1="923.8" x2="705.3" y2="930.5" stroke="#262626" stroke-width="1"/>
<text class="c" x="705.3" y="956.2" text-anchor="middle">0</text>
<line x1="815.1" y1="923.8" x2="815.1" y2="930.5" stroke="#262626" stroke-width="1"/>
<text class="c" x="815.1" y="956.2" text-anchor="middle">0.02</text>
<line x1="924.9" y1="923.8" x2="924.9" y2="930.5" stroke="#262626" stroke-width="1"/>
<text class="c" x="924.9" y="956.2" text-anchor="middle">0.04</text>
<text class="c" x="1034.7" y="956.2" text-anchor="middle">0.06</text>
<text class="c" x="706.3" y="979" text-anchor="middle">°C/km</text>
</svg></body></html>
